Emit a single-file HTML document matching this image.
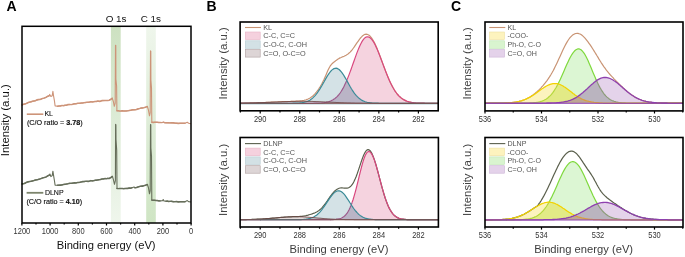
<!DOCTYPE html>
<html><head><meta charset="utf-8"><style>
html,body{margin:0;padding:0;background:#fff;width:685px;height:257px;overflow:hidden}
svg{display:block;font-family:"Liberation Sans", sans-serif;will-change:transform}
</style></head><body>
<svg width="685" height="257" viewBox="0 0 685 257">
<defs>
<linearGradient id="gO" x1="0" y1="0" x2="0" y2="1">
<stop offset="0" stop-color="#cde1c1"/><stop offset="0.45" stop-color="#dcebd5"/><stop offset="1" stop-color="#eff6ec"/></linearGradient>
<linearGradient id="gC" x1="0" y1="0" x2="0" y2="1">
<stop offset="0" stop-color="#eff6ec"/><stop offset="0.55" stop-color="#dcebd5"/><stop offset="1" stop-color="#cfe5c4"/></linearGradient>
</defs>
<rect x="110.9" y="26.3" width="9.8" height="196.7" fill="url(#gO)"/>
<rect x="146.2" y="26.3" width="9.6" height="196.7" fill="url(#gC)"/>
<path d="M22.00,105.00 L29.70,102.10 L39.50,99.50 L45.80,97.40 L49.20,95.80 L49.70,94.40 L50.90,96.50 L52.20,95.70 L52.90,91.30 L53.60,96.20 L54.40,100.60 L55.10,105.90 L57.50,106.20 L65.00,105.20 L80.00,103.30 L95.00,101.50 L105.00,100.50 L109.20,100.20 L112.20,98.20 L113.40,101.60 L114.30,106.30 L115.20,103.20 L115.50,45.30 L115.80,45.50 L115.90,79.00 L116.60,86.00 L116.90,110.80 L125.00,111.00 L135.00,109.70 L140.00,108.40 L144.20,107.60 L147.40,106.50 L148.40,110.00 L149.50,115.80 L150.20,112.60 L150.50,50.90 L150.80,51.10 L150.90,80.00 L151.50,88.00 L151.80,122.30 L156.00,122.30 L160.00,122.50 L163.00,122.40 L163.60,121.80 L164.30,122.60 L170.00,122.90 L175.00,123.10 L180.00,123.20 L185.00,123.30 L187.30,122.30 L188.60,123.30 L191.00,123.80" fill="none" stroke="#cd9479" stroke-width="1.1" stroke-linejoin="round"/>
<path d="M22.00,105.00 L23.54,104.16 L25.08,104.08 L26.62,103.44 L28.16,102.51 L29.70,102.10 L31.10,101.73 L32.50,101.32 L33.90,101.09 L35.30,100.82 L36.70,99.96 L38.10,99.54 L39.50,99.50 L41.08,99.21 L42.65,98.40 L44.22,98.11 L45.80,97.40 L47.50,96.25 L49.20,95.80" fill="none" stroke="#cd9479" stroke-width="1.45" stroke-linejoin="round" stroke-linecap="round"/>
<path d="M57.50,106.20 L59.00,105.96 L60.50,105.96 L62.00,105.41 L63.50,105.71 L65.00,105.20 L66.36,105.31 L67.73,104.53 L69.09,104.35 L70.45,104.54 L71.82,104.64 L73.18,104.08 L74.55,103.79 L75.91,103.76 L77.27,103.32 L78.64,103.28 L80.00,103.30 L81.36,103.09 L82.73,102.97 L84.09,102.62 L85.45,102.46 L86.82,102.28 L88.18,102.29 L89.55,102.01 L90.91,101.66 L92.27,102.06 L93.64,101.70 L95.00,101.50 L96.43,101.46 L97.86,100.99 L99.29,101.42 L100.71,101.18 L102.14,100.52 L103.57,100.53 L105.00,100.50 L106.40,100.56 L107.80,100.45 L109.20,100.20 L110.70,99.51 L112.20,98.20" fill="none" stroke="#cd9479" stroke-width="1.45" stroke-linejoin="round" stroke-linecap="round"/>
<path d="M116.90,110.80 L118.25,110.78 L119.60,111.10 L120.95,111.02 L122.30,110.80 L123.65,111.03 L125.00,111.00 L126.43,111.08 L127.86,110.87 L129.29,110.45 L130.71,110.32 L132.14,109.75 L133.57,109.71 L135.00,109.70 L136.67,109.47 L138.33,108.77 L140.00,108.40 L141.40,107.90 L142.80,107.90 L144.20,107.60 L145.80,107.19 L147.40,106.50" fill="none" stroke="#cd9479" stroke-width="1.45" stroke-linejoin="round" stroke-linecap="round"/>
<path d="M151.80,122.30 L153.20,122.42 L154.60,122.21 L156.00,122.30 L157.33,122.32 L158.67,122.44 L160.00,122.50 L161.50,122.64 L163.00,122.40" fill="none" stroke="#cd9479" stroke-width="1.45" stroke-linejoin="round" stroke-linecap="round"/>
<path d="M164.30,122.60 L165.73,122.69 L167.15,122.68 L168.57,122.82 L170.00,122.90 L171.67,122.64 L173.33,122.71 L175.00,123.10 L176.67,123.28 L178.33,123.50 L180.00,123.20 L181.67,123.30 L183.33,123.19 L185.00,123.30" fill="none" stroke="#cd9479" stroke-width="1.45" stroke-linejoin="round" stroke-linecap="round"/>
<path d="M22.00,184.00 L29.70,181.50 L39.50,179.10 L45.80,177.10 L49.50,175.00 L49.90,174.00 L50.90,176.60 L52.20,175.60 L52.90,171.20 L53.60,175.60 L54.40,180.50 L55.10,185.20 L57.50,185.30 L65.00,184.20 L80.00,182.20 L95.00,180.30 L105.00,178.50 L109.20,178.50 L112.40,176.40 L113.40,179.60 L114.50,184.30 L115.40,180.60 L115.60,124.40 L115.90,124.60 L116.00,139.60 L116.70,150.00 L117.00,188.50 L125.00,188.50 L132.00,187.80 L134.00,187.00 L135.00,187.80 L140.00,186.40 L144.20,185.60 L147.40,184.50 L148.40,187.50 L149.50,193.80 L150.20,190.60 L150.50,124.50 L150.80,124.70 L150.90,148.00 L151.50,156.00 L151.80,200.10 L156.00,200.50 L160.00,200.90 L162.50,200.70 L163.20,199.50 L163.90,200.90 L166.00,201.20 L170.00,201.40 L175.00,201.60 L180.00,201.70 L185.00,201.70 L187.30,200.60 L188.50,201.60 L191.00,202.00" fill="none" stroke="#666e5a" stroke-width="1.1" stroke-linejoin="round"/>
<path d="M22.00,184.00 L23.54,183.82 L25.08,183.31 L26.62,182.19 L28.16,181.71 L29.70,181.50 L31.10,181.39 L32.50,180.98 L33.90,180.59 L35.30,179.99 L36.70,179.86 L38.10,179.52 L39.50,179.10 L41.08,178.66 L42.65,177.86 L44.22,177.55 L45.80,177.10 L47.65,175.98 L49.50,175.00" fill="none" stroke="#666e5a" stroke-width="1.45" stroke-linejoin="round" stroke-linecap="round"/>
<path d="M57.50,185.30 L59.00,185.24 L60.50,185.21 L62.00,184.95 L63.50,184.45 L65.00,184.20 L66.36,183.98 L67.73,183.67 L69.09,183.33 L70.45,183.14 L71.82,183.27 L73.18,182.98 L74.55,182.84 L75.91,183.02 L77.27,182.58 L78.64,182.42 L80.00,182.20 L81.36,181.84 L82.73,181.52 L84.09,181.56 L85.45,181.25 L86.82,181.34 L88.18,181.51 L89.55,181.11 L90.91,180.60 L92.27,180.92 L93.64,180.68 L95.00,180.30 L96.43,180.21 L97.86,180.07 L99.29,179.71 L100.71,179.47 L102.14,178.91 L103.57,179.09 L105.00,178.50 L106.40,178.82 L107.80,178.26 L109.20,178.50 L110.80,177.63 L112.40,176.40" fill="none" stroke="#666e5a" stroke-width="1.45" stroke-linejoin="round" stroke-linecap="round"/>
<path d="M117.00,188.50 L118.33,188.65 L119.67,188.47 L121.00,188.52 L122.33,188.49 L123.67,188.80 L125.00,188.50 L126.40,188.36 L127.80,188.45 L129.20,187.98 L130.60,188.21 L132.00,187.80" fill="none" stroke="#666e5a" stroke-width="1.45" stroke-linejoin="round" stroke-linecap="round"/>
<path d="M135.00,187.80 L136.67,187.61 L138.33,186.84 L140.00,186.40 L141.40,186.18 L142.80,186.16 L144.20,185.60 L145.80,185.21 L147.40,184.50" fill="none" stroke="#666e5a" stroke-width="1.45" stroke-linejoin="round" stroke-linecap="round"/>
<path d="M151.80,200.10 L153.20,200.22 L154.60,200.17 L156.00,200.50 L157.33,200.51 L158.67,200.91 L160.00,200.90" fill="none" stroke="#666e5a" stroke-width="1.45" stroke-linejoin="round" stroke-linecap="round"/>
<path d="M166.00,201.20 L167.33,201.03 L168.67,201.62 L170.00,201.40 L171.67,201.30 L173.33,201.82 L175.00,201.60 L176.67,201.50 L178.33,201.99 L180.00,201.70 L181.67,201.84 L183.33,201.70 L185.00,201.70" fill="none" stroke="#666e5a" stroke-width="1.45" stroke-linejoin="round" stroke-linecap="round"/>
<rect x="22" y="26.3" width="169" height="196.7" fill="none" stroke="#000" stroke-width="1.5"/>
<line x1="191.10" y1="223" x2="191.10" y2="225.5" stroke="#000" stroke-width="1.2"/>
<text transform="translate(191.10,233.6) scale(0.88,1)" font-size="8.5" text-anchor="middle" fill="#333">0</text>
<line x1="177.00" y1="223" x2="177.00" y2="224.6" stroke="#000" stroke-width="1.2"/>
<line x1="162.90" y1="223" x2="162.90" y2="225.5" stroke="#000" stroke-width="1.2"/>
<text transform="translate(162.90,233.6) scale(0.88,1)" font-size="8.5" text-anchor="middle" fill="#333">200</text>
<line x1="148.80" y1="223" x2="148.80" y2="224.6" stroke="#000" stroke-width="1.2"/>
<line x1="134.70" y1="223" x2="134.70" y2="225.5" stroke="#000" stroke-width="1.2"/>
<text transform="translate(134.70,233.6) scale(0.88,1)" font-size="8.5" text-anchor="middle" fill="#333">400</text>
<line x1="120.60" y1="223" x2="120.60" y2="224.6" stroke="#000" stroke-width="1.2"/>
<line x1="106.50" y1="223" x2="106.50" y2="225.5" stroke="#000" stroke-width="1.2"/>
<text transform="translate(106.50,233.6) scale(0.88,1)" font-size="8.5" text-anchor="middle" fill="#333">600</text>
<line x1="92.40" y1="223" x2="92.40" y2="224.6" stroke="#000" stroke-width="1.2"/>
<line x1="78.30" y1="223" x2="78.30" y2="225.5" stroke="#000" stroke-width="1.2"/>
<text transform="translate(78.30,233.6) scale(0.88,1)" font-size="8.5" text-anchor="middle" fill="#333">800</text>
<line x1="64.20" y1="223" x2="64.20" y2="224.6" stroke="#000" stroke-width="1.2"/>
<line x1="50.10" y1="223" x2="50.10" y2="225.5" stroke="#000" stroke-width="1.2"/>
<text transform="translate(50.10,233.6) scale(0.88,1)" font-size="8.5" text-anchor="middle" fill="#333">1000</text>
<line x1="36.00" y1="223" x2="36.00" y2="224.6" stroke="#000" stroke-width="1.2"/>
<line x1="21.90" y1="223" x2="21.90" y2="225.5" stroke="#000" stroke-width="1.2"/>
<text transform="translate(21.90,233.6) scale(0.88,1)" font-size="8.5" text-anchor="middle" fill="#333">1200</text>
<text transform="translate(116.1,22.1) scale(1.1,1)" font-size="9" text-anchor="middle" fill="#111">O 1s</text>
<text transform="translate(150.9,22.1) scale(1.1,1)" font-size="9" text-anchor="middle" fill="#111">C 1s</text>
<line x1="26.8" y1="114.2" x2="43.3" y2="114.2" stroke="#cd9479" stroke-width="1.6"/>
<text x="44.4" y="116.4" font-size="7" fill="#111" stroke="#111" stroke-width="0.12">KL</text>
<text x="26.9" y="124.5" font-size="7.2" fill="#111" stroke="#111" stroke-width="0.15" xml:space="preserve">(C/O ratio = <tspan font-weight="bold">3.78</tspan>)</text>
<line x1="26.6" y1="192.8" x2="43.3" y2="192.8" stroke="#7c846c" stroke-width="1.8"/>
<text x="44.9" y="195.0" font-size="7" fill="#111" stroke="#111" stroke-width="0.12">DLNP</text>
<text x="26.4" y="203.6" font-size="7.2" fill="#111" stroke="#111" stroke-width="0.15" xml:space="preserve">(C/O ratio = <tspan font-weight="bold">4.10</tspan>)</text>
<text x="56.7" y="248.7" font-size="11.2" fill="#111">Binding energy (eV)</text>
<text transform="translate(9.1,120.2) rotate(-90)" font-size="11.4" text-anchor="middle" fill="#111">Intensity (a.u.)</text>
<text x="6.4" y="10.8" font-size="14" font-weight="bold" fill="#000">A</text>
<text x="206.6" y="11.0" font-size="14" font-weight="bold" fill="#000">B</text>
<text x="451.0" y="11.0" font-size="14" font-weight="bold" fill="#000">C</text>
<clipPath id="clip240_22"><rect x="240.1" y="22" width="198.1" height="88.8"/></clipPath>
<g clip-path="url(#clip240_22)">
<path d="M314.1,103.2L315.1,103.2L316.1,103.2L317.1,103.2L318.1,103.1L319.1,103.1L320.1,103.0L321.1,103.0L322.1,102.9L323.1,102.8L324.1,102.7L325.1,102.5L326.1,102.4L327.1,102.1L328.1,101.9L329.1,101.6L330.1,101.2L331.1,100.8L332.1,100.3L333.1,99.8L334.1,99.1L335.1,98.4L336.1,97.5L337.1,96.6L338.1,95.5L339.1,94.3L340.1,93.0L341.1,91.5L342.1,89.9L343.1,88.1L344.1,86.2L345.1,84.1L346.1,81.9L347.1,79.6L348.1,77.1L349.1,74.6L350.1,71.9L351.1,69.2L352.1,66.4L353.1,63.5L354.1,60.7L355.1,57.9L356.1,55.1L357.1,52.4L358.1,49.9L359.1,47.5L360.1,45.2L361.1,43.2L362.1,41.4L363.1,39.9L364.1,38.7L365.1,37.7L366.1,37.1L367.1,36.8L368.1,36.9L369.1,37.2L370.1,37.8L371.1,38.7L372.1,39.9L373.1,41.3L374.1,42.9L375.1,44.8L376.1,46.9L377.1,49.1L378.1,51.5L379.1,54.0L380.1,56.6L381.1,59.2L382.1,61.9L383.1,64.6L384.1,67.3L385.1,69.9L386.1,72.5L387.1,75.0L388.1,77.4L389.1,79.7L390.1,81.9L391.1,84.0L392.1,86.0L393.1,87.8L394.1,89.5L395.1,91.1L396.1,92.5L397.1,93.8L398.1,95.0L399.1,96.1L400.1,97.0L401.1,97.9L402.1,98.7L403.1,99.3L404.1,99.9L405.1,100.4L406.1,100.9L407.1,101.3L408.1,101.6L409.1,101.9L410.1,102.1L411.1,102.3L412.1,102.5L413.1,102.6L414.1,102.8L415.1,102.9L416.1,103.0L417.1,103.0L418.1,103.1L419.1,103.1L420.1,103.2L421.1,103.2L422.1,103.2L423.1,103.2L424.1,103.2L424.1,103.3L314.1,103.3Z" fill="#f5d3df"/>
<path d="M293.1,103.2L294.1,103.2L295.1,103.2L296.1,103.2L297.1,103.1L298.1,103.1L299.1,103.0L300.1,102.9L301.1,102.8L302.1,102.7L303.1,102.5L304.1,102.3L305.1,102.0L306.1,101.7L307.1,101.4L308.1,101.0L309.1,100.5L310.1,99.9L311.1,99.2L312.1,98.5L313.1,97.6L314.1,96.6L315.1,95.6L316.1,94.4L317.1,93.1L318.1,91.7L319.1,90.2L320.1,88.6L321.1,86.9L322.1,85.2L323.1,83.4L324.1,81.7L325.1,79.9L326.1,78.1L327.1,76.4L328.1,74.8L329.1,73.3L330.1,72.0L331.1,70.8L332.1,69.9L333.1,69.1L334.1,68.6L335.1,68.3L336.1,68.2L337.1,68.4L338.1,68.9L339.1,69.5L340.1,70.5L341.1,71.6L342.1,72.9L343.1,74.3L344.1,75.9L345.1,77.6L346.1,79.3L347.1,81.1L348.1,82.9L349.1,84.7L350.1,86.5L351.1,88.2L352.1,89.8L353.1,91.3L354.1,92.8L355.1,94.1L356.1,95.3L357.1,96.4L358.1,97.4L359.1,98.3L360.1,99.1L361.1,99.8L362.1,100.4L363.1,100.9L364.1,101.3L365.1,101.7L366.1,102.0L367.1,102.3L368.1,102.5L369.1,102.6L370.1,102.8L371.1,102.9L372.1,103.0L373.1,103.1L374.1,103.1L375.1,103.2L376.1,103.2L377.1,103.2L378.1,103.2L378.1,103.3L293.1,103.3Z" fill="#d4e2e6"/>
<path d="M240.1,103.1L241.1,103.1L242.1,103.1L243.1,103.1L244.1,103.1L245.1,103.0L246.1,103.0L247.1,103.0L248.1,103.0L249.1,103.0L250.1,102.9L251.1,102.9L252.1,102.9L253.1,102.9L254.1,102.8L255.1,102.8L256.1,102.8L257.1,102.7L258.1,102.7L259.1,102.7L260.1,102.6L261.1,102.6L262.1,102.6L263.1,102.5L264.1,102.5L265.1,102.5L266.1,102.4L267.1,102.4L268.1,102.3L269.1,102.3L270.1,102.3L271.1,102.2L272.1,102.2L273.1,102.1L274.1,102.1L275.1,102.0L276.1,102.0L277.1,102.0L278.1,101.9L279.1,101.9L280.1,101.8L281.1,101.8L282.1,101.7L283.1,101.7L284.1,101.7L285.1,101.6L286.1,101.6L287.1,101.6L288.1,101.5L289.1,101.5L290.1,101.5L291.1,101.4L292.1,101.4L293.1,101.4L294.1,101.4L295.1,101.4L296.1,101.3L297.1,101.3L298.1,101.3L299.1,101.3L300.1,101.3L301.1,101.3L302.1,101.3L303.1,101.3L304.1,101.3L305.1,101.3L306.1,101.3L307.1,101.3L308.1,101.4L309.1,101.4L310.1,101.4L311.1,101.4L312.1,101.4L313.1,101.5L314.1,101.5L315.1,101.5L316.1,101.6L317.1,101.6L318.1,101.6L319.1,101.7L320.1,101.7L321.1,101.8L322.1,101.8L323.1,101.9L324.1,101.9L325.1,102.0L326.1,102.0L327.1,102.0L328.1,102.1L329.1,102.1L330.1,102.2L331.1,102.2L332.1,102.3L333.1,102.3L334.1,102.4L335.1,102.4L336.1,102.5L337.1,102.5L338.1,102.5L339.1,102.6L340.1,102.6L341.1,102.7L342.1,102.7L343.1,102.7L344.1,102.8L345.1,102.8L346.1,102.8L347.1,102.9L348.1,102.9L349.1,102.9L350.1,102.9L351.1,103.0L352.1,103.0L353.1,103.0L354.1,103.0L355.1,103.1L356.1,103.1L357.1,103.1L358.1,103.1L359.1,103.1L360.1,103.1L361.1,103.1L362.1,103.2L363.1,103.2L364.1,103.2L365.1,103.2L366.1,103.2L367.1,103.2L368.1,103.2L369.1,103.2L370.1,103.2L371.1,103.2L372.1,103.2L372.1,103.3L240.1,103.3Z" fill="#e6dcdc"/>
<path d="M314.1,103.2L315.1,103.2L316.1,103.2L317.1,103.2L318.1,103.1L319.1,103.1L320.1,103.0L321.1,103.0L322.1,102.9L323.1,102.8L324.1,102.7L325.1,102.5L326.1,102.4L327.1,102.1L328.1,101.9L329.1,101.6L330.1,101.2L331.1,100.8L332.1,100.3L333.1,99.8L334.1,99.1L335.1,98.4L336.1,97.5L337.1,96.6L338.1,95.5L339.1,94.3L340.1,93.0L341.1,91.5L342.1,89.9L343.1,88.1L344.1,86.2L345.1,84.1L346.1,81.9L347.1,81.1L348.1,82.9L349.1,84.7L350.1,86.5L351.1,88.2L352.1,89.8L353.1,91.3L354.1,92.8L355.1,94.1L356.1,95.3L357.1,96.4L358.1,97.4L359.1,98.3L360.1,99.1L361.1,99.8L362.1,100.4L363.1,100.9L364.1,101.3L365.1,101.7L366.1,102.0L367.1,102.3L368.1,102.5L369.1,102.6L370.1,102.8L371.1,102.9L372.1,103.0L373.1,103.1L374.1,103.1L375.1,103.2L376.1,103.2L377.1,103.2L378.1,103.2L378.1,103.3L314.1,103.3Z" fill="#bab4c6"/>
<path d="M314.1,103.2L315.1,103.2L316.1,103.2L317.1,103.2L318.1,103.1L319.1,103.1L320.1,103.0L321.1,103.0L322.1,102.9L323.1,102.8L324.1,102.7L325.1,102.5L326.1,102.4L327.1,102.1L328.1,102.1L329.1,102.1L330.1,102.2L331.1,102.2L332.1,102.3L333.1,102.3L334.1,102.4L335.1,102.4L336.1,102.5L337.1,102.5L338.1,102.5L339.1,102.6L340.1,102.6L341.1,102.7L342.1,102.7L343.1,102.7L344.1,102.8L345.1,102.8L346.1,102.8L347.1,102.9L348.1,102.9L349.1,102.9L350.1,102.9L351.1,103.0L352.1,103.0L353.1,103.0L354.1,103.0L355.1,103.1L356.1,103.1L357.1,103.1L358.1,103.1L359.1,103.1L360.1,103.1L361.1,103.1L362.1,103.2L363.1,103.2L364.1,103.2L365.1,103.2L366.1,103.2L367.1,103.2L368.1,103.2L369.1,103.2L370.1,103.2L371.1,103.2L372.1,103.2L372.1,103.3L314.1,103.3Z" fill="#d8c4cc"/>
<path d="M293.1,103.2L294.1,103.2L295.1,103.2L296.1,103.2L297.1,103.1L298.1,103.1L299.1,103.0L300.1,102.9L301.1,102.8L302.1,102.7L303.1,102.5L304.1,102.3L305.1,102.0L306.1,101.7L307.1,101.4L308.1,101.4L309.1,101.4L310.1,101.4L311.1,101.4L312.1,101.4L313.1,101.5L314.1,101.5L315.1,101.5L316.1,101.6L317.1,101.6L318.1,101.6L319.1,101.7L320.1,101.7L321.1,101.8L322.1,101.8L323.1,101.9L324.1,101.9L325.1,102.0L326.1,102.0L327.1,102.0L328.1,102.1L329.1,102.1L330.1,102.2L331.1,102.2L332.1,102.3L333.1,102.3L334.1,102.4L335.1,102.4L336.1,102.5L337.1,102.5L338.1,102.5L339.1,102.6L340.1,102.6L341.1,102.7L342.1,102.7L343.1,102.7L344.1,102.8L345.1,102.8L346.1,102.8L347.1,102.9L348.1,102.9L349.1,102.9L350.1,102.9L351.1,103.0L352.1,103.0L353.1,103.0L354.1,103.0L355.1,103.1L356.1,103.1L357.1,103.1L358.1,103.1L359.1,103.1L360.1,103.1L361.1,103.1L362.1,103.2L363.1,103.2L364.1,103.2L365.1,103.2L366.1,103.2L367.1,103.2L368.1,103.2L369.1,103.2L370.1,103.2L371.1,103.2L372.1,103.2L372.1,103.3L293.1,103.3Z" fill="#c8ccd2"/>
<path d="M314.1,103.2L315.1,103.2L316.1,103.2L317.1,103.2L318.1,103.1L319.1,103.1L320.1,103.0L321.1,103.0L322.1,102.9L323.1,102.8L324.1,102.7L325.1,102.5L326.1,102.4L327.1,102.1L328.1,102.1L329.1,102.1L330.1,102.2L331.1,102.2L332.1,102.3L333.1,102.3L334.1,102.4L335.1,102.4L336.1,102.5L337.1,102.5L338.1,102.5L339.1,102.6L340.1,102.6L341.1,102.7L342.1,102.7L343.1,102.7L344.1,102.8L345.1,102.8L346.1,102.8L347.1,102.9L348.1,102.9L349.1,102.9L350.1,102.9L351.1,103.0L352.1,103.0L353.1,103.0L354.1,103.0L355.1,103.1L356.1,103.1L357.1,103.1L358.1,103.1L359.1,103.1L360.1,103.1L361.1,103.1L362.1,103.2L363.1,103.2L364.1,103.2L365.1,103.2L366.1,103.2L367.1,103.2L368.1,103.2L369.1,103.2L370.1,103.2L371.1,103.2L372.1,103.2L372.1,103.3L314.1,103.3Z" fill="#b0a8b8"/>
<path d="M240.1,103.1L241.1,103.1L242.1,103.1L243.1,103.1L244.1,103.1L245.1,103.0L246.1,103.0L247.1,103.0L248.1,103.0L249.1,103.0L250.1,102.9L251.1,102.9L252.1,102.9L253.1,102.9L254.1,102.8L255.1,102.8L256.1,102.8L257.1,102.7L258.1,102.7L259.1,102.7L260.1,102.6L261.1,102.6L262.1,102.6L263.1,102.5L264.1,102.5L265.1,102.5L266.1,102.4L267.1,102.4L268.1,102.3L269.1,102.3L270.1,102.3L271.1,102.2L272.1,102.2L273.1,102.1L274.1,102.1L275.1,102.0L276.1,102.0L277.1,102.0L278.1,101.9L279.1,101.9L280.1,101.8L281.1,101.8L282.1,101.7L283.1,101.7L284.1,101.7L285.1,101.6L286.1,101.6L287.1,101.6L288.1,101.5L289.1,101.5L290.1,101.5L291.1,101.4L292.1,101.4L293.1,101.3L294.1,101.3L295.1,101.3L296.1,101.2L297.1,101.2L298.1,101.1L299.1,101.0L300.1,100.9L301.1,100.8L302.1,100.7L303.1,100.5L304.1,100.3L305.1,100.0L306.1,99.8L307.1,99.4L308.1,99.0L309.1,98.5L310.1,98.0L311.1,97.3L312.1,96.6L313.1,95.7L314.1,94.8L315.1,93.7L316.1,92.5L317.1,91.2L318.1,89.8L319.1,88.3L320.1,86.7L321.1,85.0L322.1,83.2L323.1,81.2L324.1,79.2L325.1,77.0L326.1,74.7L327.1,72.3L328.1,70.1L329.1,68.0L330.1,66.2L331.1,64.8L332.1,63.7L333.1,62.8L334.1,62.0L335.1,61.2L336.1,60.4L337.1,59.7L338.1,59.0L339.1,58.4L340.1,57.9L341.1,57.5L342.1,57.0L343.1,56.6L344.1,56.2L345.1,55.7L346.1,55.2L347.1,54.6L348.1,53.9L349.1,53.0L350.1,52.1L351.1,51.0L352.1,49.8L353.1,48.5L354.1,47.2L355.1,45.7L356.1,44.2L357.1,42.7L358.1,41.3L359.1,39.9L360.1,38.5L361.1,37.3L362.1,36.3L363.1,35.4L364.1,34.8L365.1,34.3L366.1,34.2L367.1,34.3L368.1,34.7L369.1,35.3L370.1,36.2L371.1,37.3L372.1,38.7L373.1,40.3L374.1,42.1L375.1,44.1L376.1,46.3L377.1,48.6L378.1,51.1L379.1,53.6L380.1,56.3L381.1,59.0L382.1,61.7L383.1,64.4L384.1,67.1L385.1,69.8L386.1,72.4L387.1,74.9L388.1,77.3L389.1,79.7L390.1,81.9L391.1,84.0L392.1,85.9L393.1,87.8L394.1,89.5L395.1,91.1L396.1,92.5L397.1,93.8L398.1,95.0L399.1,96.1L400.1,97.0L401.1,97.9L402.1,98.6L403.1,99.3L404.1,99.9L405.1,100.4L406.1,100.9L407.1,101.3L408.1,101.6L409.1,101.9L410.1,102.1L411.1,102.3L412.1,102.5L413.1,102.6L414.1,102.8L415.1,102.9L416.1,103.0L417.1,103.0L418.1,103.1L419.1,103.1L420.1,103.2L421.1,103.2L422.1,103.2L423.1,103.2L424.1,103.2L425.1,103.3L426.1,103.3L427.1,103.3L428.1,103.3L429.1,103.3L430.1,103.3L431.1,103.3L432.1,103.3L433.1,103.3L434.1,103.3L435.1,103.3L436.1,103.3L437.1,103.3L438.1,103.3L438.2,103.3" fill="none" stroke="#c99474" stroke-width="1.2" stroke-linejoin="round"/>
<path d="M240.1,103.3L241.1,103.3L242.1,103.3L243.1,103.3L244.1,103.3L245.1,103.3L246.1,103.3L247.1,103.3L248.1,103.3L249.1,103.3L250.1,103.3L251.1,103.3L252.1,103.3L253.1,103.3L254.1,103.3L255.1,103.3L256.1,103.3L257.1,103.3L258.1,103.3L259.1,103.3" fill="none" stroke="#d9487f" stroke-width="1.2" stroke-linejoin="round"/>
<path d="M258.1,103.3L259.1,103.3L260.1,103.3L261.1,103.3L262.1,103.3L263.1,103.3L264.1,103.3L265.1,103.3L266.1,103.3L267.1,103.3L268.1,103.3L269.1,103.3L270.1,103.3L271.1,103.3L272.1,103.3L273.1,103.3L274.1,103.3L275.1,103.3L276.1,103.3L277.1,103.3L278.1,103.3L279.1,103.3L280.1,103.3L281.1,103.3L282.1,103.3L283.1,103.3L284.1,103.3L285.1,103.3L286.1,103.3L287.1,103.3L288.1,103.3L289.1,103.3L290.1,103.3L291.1,103.3L292.1,103.3L293.1,103.3L294.1,103.3L295.1,103.3L296.1,103.3L297.1,103.3L298.1,103.3L299.1,103.3L300.1,103.3L301.1,103.3L302.1,103.3L303.1,103.3L304.1,103.3L305.1,103.3L306.1,103.3L307.1,103.3L308.1,103.3L309.1,103.3L310.1,103.3L311.1,103.3L312.1,103.3L313.1,103.3L314.1,103.2L315.1,103.2L316.1,103.2L317.1,103.2L318.1,103.1L319.1,103.1L320.1,103.0L321.1,103.0L322.1,102.9L323.1,102.8L324.1,102.7L325.1,102.5" fill="none" stroke="#9e5a8c" stroke-width="1.2" stroke-linejoin="round"/>
<path d="M324.1,102.7L325.1,102.5L326.1,102.4L327.1,102.1L328.1,101.9L329.1,101.6L330.1,101.2L331.1,100.8L332.1,100.3L333.1,99.8L334.1,99.1L335.1,98.4L336.1,97.5L337.1,96.6L338.1,95.5L339.1,94.3L340.1,93.0L341.1,91.5L342.1,89.9L343.1,88.1L344.1,86.2L345.1,84.1L346.1,81.9L347.1,79.6" fill="none" stroke="#9e5a8c" stroke-width="1.2" stroke-linejoin="round"/>
<path d="M347.1,79.6L348.1,77.1L349.1,74.6L350.1,71.9L351.1,69.2L352.1,66.4L353.1,63.5L354.1,60.7L355.1,57.9L356.1,55.1L357.1,52.4L358.1,49.9L359.1,47.5L360.1,45.2L361.1,43.2L362.1,41.4L363.1,39.9L364.1,38.7L365.1,37.7L366.1,37.1L367.1,36.8L368.1,36.9L369.1,37.2L370.1,37.8L371.1,38.7L372.1,39.9L373.1,41.3L374.1,42.9L375.1,44.8L376.1,46.9L377.1,49.1L378.1,51.5L379.1,54.0L380.1,56.6L381.1,59.2L382.1,61.9L383.1,64.6L384.1,67.3L385.1,69.9L386.1,72.5L387.1,75.0L388.1,77.4L389.1,79.7L390.1,81.9L391.1,84.0L392.1,86.0L393.1,87.8L394.1,89.5L395.1,91.1L396.1,92.5L397.1,93.8L398.1,95.0L399.1,96.1L400.1,97.0L401.1,97.9L402.1,98.7L403.1,99.3L404.1,99.9L405.1,100.4L406.1,100.9L407.1,101.3L408.1,101.6L409.1,101.9L410.1,102.1L411.1,102.3L412.1,102.5L413.1,102.6L414.1,102.8L415.1,102.9L416.1,103.0L417.1,103.0L418.1,103.1L419.1,103.1L420.1,103.2L421.1,103.2L422.1,103.2L423.1,103.2L424.1,103.2L425.1,103.3L426.1,103.3L427.1,103.3L428.1,103.3L429.1,103.3L430.1,103.3L431.1,103.3L432.1,103.3L433.1,103.3L434.1,103.3L435.1,103.3L436.1,103.3L437.1,103.3L438.1,103.3L438.2,103.3" fill="none" stroke="#d9487f" stroke-width="1.2" stroke-linejoin="round"/>
<path d="M240.1,103.3L241.1,103.3L242.1,103.3L243.1,103.3L244.1,103.3L245.1,103.3L246.1,103.3L247.1,103.3L248.1,103.3L249.1,103.3L250.1,103.3L251.1,103.3L252.1,103.3L253.1,103.3L254.1,103.3L255.1,103.3L256.1,103.3L257.1,103.3L258.1,103.3L259.1,103.3" fill="none" stroke="#3b8b98" stroke-width="1.2" stroke-linejoin="round"/>
<path d="M258.1,103.3L259.1,103.3L260.1,103.3L261.1,103.3L262.1,103.3L263.1,103.3L264.1,103.3L265.1,103.3L266.1,103.3L267.1,103.3L268.1,103.3L269.1,103.3L270.1,103.3L271.1,103.3L272.1,103.3L273.1,103.3L274.1,103.3L275.1,103.3L276.1,103.3L277.1,103.3L278.1,103.3L279.1,103.3L280.1,103.3L281.1,103.3L282.1,103.3L283.1,103.3L284.1,103.3L285.1,103.3L286.1,103.3L287.1,103.3L288.1,103.3L289.1,103.3L290.1,103.3L291.1,103.3L292.1,103.3L293.1,103.2L294.1,103.2L295.1,103.2L296.1,103.2L297.1,103.1L298.1,103.1L299.1,103.0L300.1,102.9L301.1,102.8L302.1,102.7L303.1,102.5L304.1,102.3L305.1,102.0L306.1,101.7" fill="none" stroke="#3b8b98" stroke-width="1.2" stroke-linejoin="round"/>
<path d="M306.1,101.7L307.1,101.4L308.1,101.0L309.1,100.5L310.1,99.9L311.1,99.2L312.1,98.5L313.1,97.6L314.1,96.6L315.1,95.6L316.1,94.4L317.1,93.1L318.1,91.7L319.1,90.2L320.1,88.6L321.1,86.9L322.1,85.2L323.1,83.4L324.1,81.7L325.1,79.9L326.1,78.1L327.1,76.4L328.1,74.8L329.1,73.3L330.1,72.0L331.1,70.8L332.1,69.9L333.1,69.1L334.1,68.6L335.1,68.3L336.1,68.2L337.1,68.4L338.1,68.9L339.1,69.5L340.1,70.5L341.1,71.6L342.1,72.9L343.1,74.3L344.1,75.9L345.1,77.6L346.1,79.3L347.1,81.1L348.1,82.9L349.1,84.7L350.1,86.5L351.1,88.2L352.1,89.8L353.1,91.3L354.1,92.8L355.1,94.1L356.1,95.3L357.1,96.4L358.1,97.4L359.1,98.3L360.1,99.1L361.1,99.8L362.1,100.4L363.1,100.9L364.1,101.3L365.1,101.7L366.1,102.0L367.1,102.3L368.1,102.5L369.1,102.6L370.1,102.8L371.1,102.9L372.1,103.0L373.1,103.1L374.1,103.1L375.1,103.2L376.1,103.2L377.1,103.2L378.1,103.2L379.1,103.3L380.1,103.3L381.1,103.3L382.1,103.3L383.1,103.3L384.1,103.3L385.1,103.3L386.1,103.3L387.1,103.3L388.1,103.3L389.1,103.3L390.1,103.3L391.1,103.3L392.1,103.3L393.1,103.3L394.1,103.3L395.1,103.3L396.1,103.3L397.1,103.3L398.1,103.3L399.1,103.3L400.1,103.3L401.1,103.3L402.1,103.3L403.1,103.3L404.1,103.3L405.1,103.3L406.1,103.3L407.1,103.3L408.1,103.3L409.1,103.3L410.1,103.3L411.1,103.3L412.1,103.3L413.1,103.3L414.1,103.3L415.1,103.3L416.1,103.3L417.1,103.3L418.1,103.3L419.1,103.3L420.1,103.3L421.1,103.3L422.1,103.3L423.1,103.3L424.1,103.3L425.1,103.3L426.1,103.3L427.1,103.3L428.1,103.3L429.1,103.3L430.1,103.3L431.1,103.3L432.1,103.3L433.1,103.3L434.1,103.3L435.1,103.3L436.1,103.3L437.1,103.3L438.1,103.3L438.2,103.3" fill="none" stroke="#3b8b98" stroke-width="1.2" stroke-linejoin="round"/>
<path d="M240.1,103.1L241.1,103.1L242.1,103.1L243.1,103.1L244.1,103.1L245.1,103.0L246.1,103.0L247.1,103.0L248.1,103.0L249.1,103.0L250.1,102.9L251.1,102.9L252.1,102.9L253.1,102.9L254.1,102.8L255.1,102.8L256.1,102.8L257.1,102.7L258.1,102.7L259.1,102.7L260.1,102.6L261.1,102.6L262.1,102.6L263.1,102.5L264.1,102.5L265.1,102.5L266.1,102.4L267.1,102.4L268.1,102.3L269.1,102.3L270.1,102.3L271.1,102.2L272.1,102.2L273.1,102.1L274.1,102.1L275.1,102.0L276.1,102.0L277.1,102.0L278.1,101.9L279.1,101.9L280.1,101.8L281.1,101.8L282.1,101.7L283.1,101.7L284.1,101.7L285.1,101.6L286.1,101.6L287.1,101.6L288.1,101.5L289.1,101.5L290.1,101.5L291.1,101.4L292.1,101.4L293.1,101.4L294.1,101.4L295.1,101.4L296.1,101.3L297.1,101.3L298.1,101.3L299.1,101.3L300.1,101.3L301.1,101.3L302.1,101.3L303.1,101.3L304.1,101.3L305.1,101.3L306.1,101.3L307.1,101.3L308.1,101.4L309.1,101.4L310.1,101.4L311.1,101.4L312.1,101.4L313.1,101.5L314.1,101.5L315.1,101.5L316.1,101.6L317.1,101.6L318.1,101.6L319.1,101.7L320.1,101.7L321.1,101.8L322.1,101.8L323.1,101.9L324.1,101.9L325.1,102.0L326.1,102.0L327.1,102.0L328.1,102.1L329.1,102.1L330.1,102.2L331.1,102.2L332.1,102.3L333.1,102.3L334.1,102.4L335.1,102.4L336.1,102.5L337.1,102.5L338.1,102.5L339.1,102.6L340.1,102.6L341.1,102.7L342.1,102.7L343.1,102.7L344.1,102.8L345.1,102.8L346.1,102.8L347.1,102.9L348.1,102.9L349.1,102.9L350.1,102.9L351.1,103.0L352.1,103.0L353.1,103.0L354.1,103.0L355.1,103.1L356.1,103.1L357.1,103.1L358.1,103.1L359.1,103.1L360.1,103.1L361.1,103.1L362.1,103.2L363.1,103.2L364.1,103.2L365.1,103.2L366.1,103.2L367.1,103.2L368.1,103.2L369.1,103.2L370.1,103.2L371.1,103.2L372.1,103.2L373.1,103.3L374.1,103.3L375.1,103.3L376.1,103.3L377.1,103.3L378.1,103.3L379.1,103.3L380.1,103.3L381.1,103.3L382.1,103.3L383.1,103.3L384.1,103.3L385.1,103.3L386.1,103.3L387.1,103.3L388.1,103.3L389.1,103.3L390.1,103.3L391.1,103.3L392.1,103.3L393.1,103.3L394.1,103.3L395.1,103.3L396.1,103.3L397.1,103.3L398.1,103.3L399.1,103.3L400.1,103.3L401.1,103.3L402.1,103.3L403.1,103.3L404.1,103.3L405.1,103.3L406.1,103.3L407.1,103.3L408.1,103.3L409.1,103.3L410.1,103.3L411.1,103.3L412.1,103.3L413.1,103.3L414.1,103.3L415.1,103.3L416.1,103.3L417.1,103.3L418.1,103.3L419.1,103.3L420.1,103.3L421.1,103.3L422.1,103.3L423.1,103.3L424.1,103.3L425.1,103.3L426.1,103.3L427.1,103.3L428.1,103.3L429.1,103.3L430.1,103.3L431.1,103.3L432.1,103.3L433.1,103.3L434.1,103.3L435.1,103.3L436.1,103.3L437.1,103.3L438.1,103.3L438.2,103.3" fill="none" stroke="#6e4646" stroke-width="0.9" stroke-linejoin="round"/>
<line x1="240.1" y1="104.50" x2="438.2" y2="104.50" stroke="#d3e3e8" stroke-width="0.9"/>
<line x1="240.1" y1="103.40" x2="438.2" y2="103.40" stroke="#7a5252" stroke-width="0.9"/>
</g>
<rect x="240.1" y="22" width="198.1" height="88.8" fill="none" stroke="#000" stroke-width="1.6"/>
<line x1="418.40" y1="110.8" x2="418.40" y2="113.39999999999999" stroke="#000" stroke-width="1.2"/>
<text transform="translate(418.40,121.60) scale(0.88,1)" font-size="8.5" text-anchor="middle" fill="#333">282</text>
<line x1="398.62" y1="110.8" x2="398.62" y2="112.5" stroke="#000" stroke-width="1.2"/>
<line x1="378.85" y1="110.8" x2="378.85" y2="113.39999999999999" stroke="#000" stroke-width="1.2"/>
<text transform="translate(378.85,121.60) scale(0.88,1)" font-size="8.5" text-anchor="middle" fill="#333">284</text>
<line x1="359.07" y1="110.8" x2="359.07" y2="112.5" stroke="#000" stroke-width="1.2"/>
<line x1="339.30" y1="110.8" x2="339.30" y2="113.39999999999999" stroke="#000" stroke-width="1.2"/>
<text transform="translate(339.30,121.60) scale(0.88,1)" font-size="8.5" text-anchor="middle" fill="#333">286</text>
<line x1="319.52" y1="110.8" x2="319.52" y2="112.5" stroke="#000" stroke-width="1.2"/>
<line x1="299.75" y1="110.8" x2="299.75" y2="113.39999999999999" stroke="#000" stroke-width="1.2"/>
<text transform="translate(299.75,121.60) scale(0.88,1)" font-size="8.5" text-anchor="middle" fill="#333">288</text>
<line x1="279.97" y1="110.8" x2="279.97" y2="112.5" stroke="#000" stroke-width="1.2"/>
<line x1="260.20" y1="110.8" x2="260.20" y2="113.39999999999999" stroke="#000" stroke-width="1.2"/>
<text transform="translate(260.20,121.60) scale(0.88,1)" font-size="8.5" text-anchor="middle" fill="#333">290</text>
<line x1="240.42" y1="110.8" x2="240.42" y2="112.5" stroke="#000" stroke-width="1.2"/>
<line x1="245.0" y1="27.50" x2="261.0" y2="27.50" stroke="#c99474" stroke-width="1.1"/>
<text x="263.20" y="29.80" font-size="7.3" fill="#555">KL</text>
<rect x="245.30" y="32.00" width="14.9" height="7.5" fill="#f5d1de" stroke="#e8b4c6" stroke-width="0.6"/>
<text x="263.20" y="38.40" font-size="7.3" fill="#555">C-C, C=C</text>
<rect x="245.30" y="40.80" width="14.9" height="7.5" fill="#d3e1e5" stroke="#b8ccd2" stroke-width="0.6"/>
<text x="263.20" y="47.20" font-size="7.3" fill="#555">C-O-C, C-OH</text>
<rect x="245.30" y="49.60" width="14.9" height="7.5" fill="#ddd5d6" stroke="#b0a0a0" stroke-width="0.6"/>
<text x="263.20" y="56.00" font-size="7.3" fill="#555">C=O, O-C=O</text>
<clipPath id="clip240_137"><rect x="240.1" y="137.5" width="198.29999999999998" height="89.5"/></clipPath>
<g clip-path="url(#clip240_137)">
<path d="M331.1,219.6L332.1,219.6L333.1,219.6L334.1,219.5L335.1,219.5L336.1,219.4L337.1,219.2L338.1,219.1L339.1,218.8L340.1,218.6L341.1,218.2L342.1,217.7L343.1,217.1L344.1,216.4L345.1,215.5L346.1,214.4L347.1,213.1L348.1,211.5L349.1,209.7L350.1,207.6L351.1,205.2L352.1,202.5L353.1,199.5L354.1,196.2L355.1,192.7L356.1,188.9L357.1,184.9L358.1,180.8L359.1,176.7L360.1,172.6L361.1,168.6L362.1,164.8L363.1,161.4L364.1,158.3L365.1,155.8L366.1,153.8L367.1,152.4L368.1,151.6L369.1,151.5L370.1,152.1L371.1,153.1L372.1,154.7L373.1,156.8L374.1,159.4L375.1,162.3L376.1,165.5L377.1,169.0L378.1,172.7L379.1,176.4L380.1,180.2L381.1,184.0L382.1,187.7L383.1,191.2L384.1,194.6L385.1,197.7L386.1,200.6L387.1,203.3L388.1,205.7L389.1,207.9L390.1,209.8L391.1,211.4L392.1,212.9L393.1,214.1L394.1,215.2L395.1,216.1L396.1,216.8L397.1,217.4L398.1,217.9L399.1,218.3L400.1,218.6L401.1,218.9L402.1,219.1L403.1,219.2L404.1,219.4L405.1,219.4L406.1,219.5L407.1,219.6L408.1,219.6L409.1,219.6L410.1,219.6L410.1,219.7L331.1,219.7Z" fill="#f5d3df"/>
<path d="M298.1,219.6L299.1,219.6L300.1,219.6L301.1,219.6L302.1,219.5L303.1,219.5L304.1,219.4L305.1,219.3L306.1,219.2L307.1,219.0L308.1,218.8L309.1,218.6L310.1,218.4L311.1,218.0L312.1,217.7L313.1,217.2L314.1,216.7L315.1,216.1L316.1,215.4L317.1,214.7L318.1,213.8L319.1,212.8L320.1,211.8L321.1,210.6L322.1,209.4L323.1,208.0L324.1,206.6L325.1,205.2L326.1,203.7L327.1,202.2L328.1,200.7L329.1,199.2L330.1,197.7L331.1,196.3L332.1,195.1L333.1,193.9L334.1,192.9L335.1,192.1L336.1,191.5L337.1,191.0L338.1,190.8L339.1,190.8L340.1,191.1L341.1,191.5L342.1,192.2L343.1,193.1L344.1,194.2L345.1,195.4L346.1,196.8L347.1,198.3L348.1,199.8L349.1,201.4L350.1,203.0L351.1,204.5L352.1,206.1L353.1,207.6L354.1,209.0L355.1,210.3L356.1,211.5L357.1,212.7L358.1,213.7L359.1,214.6L360.1,215.4L361.1,216.1L362.1,216.7L363.1,217.3L364.1,217.7L365.1,218.1L366.1,218.4L367.1,218.7L368.1,218.9L369.1,219.1L370.1,219.2L371.1,219.3L372.1,219.4L373.1,219.5L374.1,219.5L375.1,219.6L376.1,219.6L377.1,219.6L377.1,219.7L298.1,219.7Z" fill="#d4e2e6"/>
<path d="M240.1,219.6L241.1,219.6L242.1,219.6L243.1,219.6L244.1,219.6L245.1,219.6L246.1,219.6L247.1,219.5L248.1,219.5L249.1,219.5L250.1,219.5L251.1,219.5L252.1,219.4L253.1,219.4L254.1,219.4L255.1,219.3L256.1,219.3L257.1,219.2L258.1,219.2L259.1,219.2L260.1,219.1L261.1,219.0L262.1,219.0L263.1,218.9L264.1,218.9L265.1,218.8L266.1,218.7L267.1,218.6L268.1,218.6L269.1,218.5L270.1,218.4L271.1,218.3L272.1,218.2L273.1,218.1L274.1,218.1L275.1,218.0L276.1,217.9L277.1,217.8L278.1,217.7L279.1,217.6L280.1,217.5L281.1,217.4L282.1,217.3L283.1,217.3L284.1,217.2L285.1,217.1L286.1,217.0L287.1,217.0L288.1,216.9L289.1,216.9L290.1,216.8L291.1,216.8L292.1,216.8L293.1,216.7L294.1,216.7L295.1,216.7L296.1,216.7L297.1,216.7L298.1,216.7L299.1,216.7L300.1,216.8L301.1,216.8L302.1,216.8L303.1,216.9L304.1,216.9L305.1,217.0L306.1,217.1L307.1,217.1L308.1,217.2L309.1,217.3L310.1,217.4L311.1,217.4L312.1,217.5L313.1,217.6L314.1,217.7L315.1,217.8L316.1,217.9L317.1,218.0L318.1,218.1L319.1,218.2L320.1,218.2L321.1,218.3L322.1,218.4L323.1,218.5L324.1,218.6L325.1,218.7L326.1,218.7L327.1,218.8L328.1,218.9L329.1,218.9L330.1,219.0L331.1,219.1L332.1,219.1L333.1,219.2L334.1,219.2L335.1,219.3L336.1,219.3L337.1,219.3L338.1,219.4L339.1,219.4L340.1,219.4L341.1,219.5L342.1,219.5L343.1,219.5L344.1,219.5L345.1,219.6L346.1,219.6L347.1,219.6L348.1,219.6L349.1,219.6L350.1,219.6L351.1,219.6L352.1,219.6L353.1,219.6L353.1,219.7L240.1,219.7Z" fill="#e6dcdc"/>
<path d="M331.1,219.6L332.1,219.6L333.1,219.6L334.1,219.5L335.1,219.5L336.1,219.4L337.1,219.2L338.1,219.1L339.1,218.8L340.1,218.6L341.1,218.2L342.1,217.7L343.1,217.1L344.1,216.4L345.1,215.5L346.1,214.4L347.1,213.1L348.1,211.5L349.1,209.7L350.1,207.6L351.1,205.2L352.1,206.1L353.1,207.6L354.1,209.0L355.1,210.3L356.1,211.5L357.1,212.7L358.1,213.7L359.1,214.6L360.1,215.4L361.1,216.1L362.1,216.7L363.1,217.3L364.1,217.7L365.1,218.1L366.1,218.4L367.1,218.7L368.1,218.9L369.1,219.1L370.1,219.2L371.1,219.3L372.1,219.4L373.1,219.5L374.1,219.5L375.1,219.6L376.1,219.6L377.1,219.6L377.1,219.7L331.1,219.7Z" fill="#bab4c6"/>
<path d="M331.1,219.6L332.1,219.6L333.1,219.6L334.1,219.5L335.1,219.5L336.1,219.4L337.1,219.3L338.1,219.4L339.1,219.4L340.1,219.4L341.1,219.5L342.1,219.5L343.1,219.5L344.1,219.5L345.1,219.6L346.1,219.6L347.1,219.6L348.1,219.6L349.1,219.6L350.1,219.6L351.1,219.6L352.1,219.6L353.1,219.6L353.1,219.7L331.1,219.7Z" fill="#d8c4cc"/>
<path d="M298.1,219.6L299.1,219.6L300.1,219.6L301.1,219.6L302.1,219.5L303.1,219.5L304.1,219.4L305.1,219.3L306.1,219.2L307.1,219.0L308.1,218.8L309.1,218.6L310.1,218.4L311.1,218.0L312.1,217.7L313.1,217.6L314.1,217.7L315.1,217.8L316.1,217.9L317.1,218.0L318.1,218.1L319.1,218.2L320.1,218.2L321.1,218.3L322.1,218.4L323.1,218.5L324.1,218.6L325.1,218.7L326.1,218.7L327.1,218.8L328.1,218.9L329.1,218.9L330.1,219.0L331.1,219.1L332.1,219.1L333.1,219.2L334.1,219.2L335.1,219.3L336.1,219.3L337.1,219.3L338.1,219.4L339.1,219.4L340.1,219.4L341.1,219.5L342.1,219.5L343.1,219.5L344.1,219.5L345.1,219.6L346.1,219.6L347.1,219.6L348.1,219.6L349.1,219.6L350.1,219.6L351.1,219.6L352.1,219.6L353.1,219.6L353.1,219.7L298.1,219.7Z" fill="#c8ccd2"/>
<path d="M331.1,219.6L332.1,219.6L333.1,219.6L334.1,219.5L335.1,219.5L336.1,219.4L337.1,219.3L338.1,219.4L339.1,219.4L340.1,219.4L341.1,219.5L342.1,219.5L343.1,219.5L344.1,219.5L345.1,219.6L346.1,219.6L347.1,219.6L348.1,219.6L349.1,219.6L350.1,219.6L351.1,219.6L352.1,219.6L353.1,219.6L353.1,219.7L331.1,219.7Z" fill="#b0a8b8"/>
<path d="M240.1,219.6L241.1,219.6L242.1,219.6L243.1,219.6L244.1,219.6L245.1,219.6L246.1,219.6L247.1,219.5L248.1,219.5L249.1,219.5L250.1,219.5L251.1,219.5L252.1,219.4L253.1,219.4L254.1,219.4L255.1,219.3L256.1,219.3L257.1,219.2L258.1,219.2L259.1,219.2L260.1,219.1L261.1,219.0L262.1,219.0L263.1,218.9L264.1,218.9L265.1,218.8L266.1,218.7L267.1,218.6L268.1,218.6L269.1,218.5L270.1,218.4L271.1,218.3L272.1,218.2L273.1,218.1L274.1,218.1L275.1,218.0L276.1,217.9L277.1,217.8L278.1,217.7L279.1,217.6L280.1,217.5L281.1,217.4L282.1,217.3L283.1,217.3L284.1,217.2L285.1,217.1L286.1,217.0L287.1,217.0L288.1,216.9L289.1,216.9L290.1,216.8L291.1,216.8L292.1,216.7L293.1,216.7L294.1,216.7L295.1,216.6L296.1,216.6L297.1,216.6L298.1,216.6L299.1,216.5L300.1,216.4L301.1,216.4L302.1,216.3L303.1,216.1L304.1,216.0L305.1,215.8L306.1,215.6L307.1,215.3L308.1,215.1L309.1,214.8L310.1,214.5L311.1,214.2L312.1,213.9L313.1,213.5L314.1,213.1L315.1,212.7L316.1,212.2L317.1,211.7L318.1,211.1L319.1,210.4L320.1,209.5L321.1,208.6L322.1,207.6L323.1,206.4L324.1,205.2L325.1,203.9L326.1,202.5L327.1,201.1L328.1,199.6L329.1,198.2L330.1,196.7L331.1,195.3L332.1,194.0L333.1,192.8L334.1,191.7L335.1,190.7L336.1,189.9L337.1,189.2L338.1,188.7L339.1,188.3L340.1,188.0L341.1,187.9L342.1,187.9L343.1,188.0L344.1,188.1L345.1,188.1L346.1,188.2L347.1,188.1L348.1,187.9L349.1,187.5L350.1,186.8L351.1,185.9L352.1,184.7L353.1,183.1L354.1,181.3L355.1,179.1L356.1,176.7L357.1,174.0L358.1,171.1L359.1,168.1L360.1,165.1L361.1,162.1L362.1,159.2L363.1,156.6L364.1,154.2L365.1,152.3L366.1,150.9L367.1,149.9L368.1,149.6L369.1,149.9L370.1,150.7L371.1,152.1L372.1,153.9L373.1,156.2L374.1,158.9L375.1,161.9L376.1,165.2L377.1,168.8L378.1,172.5L379.1,176.3L380.1,180.1L381.1,183.9L382.1,187.6L383.1,191.2L384.1,194.5L385.1,197.7L386.1,200.6L387.1,203.3L388.1,205.7L389.1,207.9L390.1,209.8L391.1,211.4L392.1,212.9L393.1,214.1L394.1,215.2L395.1,216.1L396.1,216.8L397.1,217.4L398.1,217.9L399.1,218.3L400.1,218.6L401.1,218.9L402.1,219.1L403.1,219.2L404.1,219.4L405.1,219.4L406.1,219.5L407.1,219.6L408.1,219.6L409.1,219.6L410.1,219.6L411.1,219.7L412.1,219.7L413.1,219.7L414.1,219.7L415.1,219.7L416.1,219.7L417.1,219.7L418.1,219.7L419.1,219.7L420.1,219.7L421.1,219.7L422.1,219.7L423.1,219.7L424.1,219.7L425.1,219.7L426.1,219.7L427.1,219.7L428.1,219.7L429.1,219.7L430.1,219.7L431.1,219.7L432.1,219.7L433.1,219.7L434.1,219.7L435.1,219.7L436.1,219.7L437.1,219.7L438.1,219.7L438.4,219.7" fill="none" stroke="#5a5f4c" stroke-width="1.2" stroke-linejoin="round"/>
<path d="M240.1,219.7L241.1,219.7L242.1,219.7L243.1,219.7L244.1,219.7L245.1,219.7L246.1,219.7L247.1,219.7L248.1,219.7L249.1,219.7L250.1,219.7L251.1,219.7L252.1,219.7L253.1,219.7L254.1,219.7L255.1,219.7L256.1,219.7L257.1,219.7L258.1,219.7L259.1,219.7L260.1,219.7L261.1,219.7" fill="none" stroke="#d9487f" stroke-width="1.2" stroke-linejoin="round"/>
<path d="M260.1,219.7L261.1,219.7L262.1,219.7L263.1,219.7L264.1,219.7L265.1,219.7L266.1,219.7L267.1,219.7L268.1,219.7L269.1,219.7L270.1,219.7L271.1,219.7L272.1,219.7L273.1,219.7L274.1,219.7L275.1,219.7L276.1,219.7L277.1,219.7L278.1,219.7L279.1,219.7L280.1,219.7L281.1,219.7L282.1,219.7L283.1,219.7L284.1,219.7L285.1,219.7L286.1,219.7L287.1,219.7L288.1,219.7L289.1,219.7L290.1,219.7L291.1,219.7L292.1,219.7L293.1,219.7L294.1,219.7L295.1,219.7L296.1,219.7L297.1,219.7L298.1,219.7L299.1,219.7L300.1,219.7L301.1,219.7L302.1,219.7L303.1,219.7L304.1,219.7L305.1,219.7L306.1,219.7L307.1,219.7L308.1,219.7L309.1,219.7L310.1,219.7L311.1,219.7L312.1,219.7L313.1,219.7L314.1,219.7L315.1,219.7L316.1,219.7L317.1,219.7L318.1,219.7L319.1,219.7L320.1,219.7L321.1,219.7L322.1,219.7L323.1,219.7L324.1,219.7L325.1,219.7L326.1,219.7L327.1,219.7L328.1,219.7L329.1,219.7L330.1,219.7L331.1,219.6" fill="none" stroke="#9e5a8c" stroke-width="1.2" stroke-linejoin="round"/>
<path d="M330.1,219.7L331.1,219.6L332.1,219.6L333.1,219.6L334.1,219.5L335.1,219.5L336.1,219.4L337.1,219.2L338.1,219.1L339.1,218.8L340.1,218.6L341.1,218.2L342.1,217.7L343.1,217.1L344.1,216.4L345.1,215.5L346.1,214.4L347.1,213.1L348.1,211.5L349.1,209.7L350.1,207.6L351.1,205.2L352.1,202.5" fill="none" stroke="#9e5a8c" stroke-width="1.2" stroke-linejoin="round"/>
<path d="M352.1,202.5L353.1,199.5L354.1,196.2L355.1,192.7L356.1,188.9L357.1,184.9L358.1,180.8L359.1,176.7L360.1,172.6L361.1,168.6L362.1,164.8L363.1,161.4L364.1,158.3L365.1,155.8L366.1,153.8L367.1,152.4L368.1,151.6L369.1,151.5L370.1,152.1L371.1,153.1L372.1,154.7L373.1,156.8L374.1,159.4L375.1,162.3L376.1,165.5L377.1,169.0L378.1,172.7L379.1,176.4L380.1,180.2L381.1,184.0L382.1,187.7L383.1,191.2L384.1,194.6L385.1,197.7L386.1,200.6L387.1,203.3L388.1,205.7L389.1,207.9L390.1,209.8L391.1,211.4L392.1,212.9L393.1,214.1L394.1,215.2L395.1,216.1L396.1,216.8L397.1,217.4L398.1,217.9L399.1,218.3L400.1,218.6L401.1,218.9L402.1,219.1L403.1,219.2L404.1,219.4L405.1,219.4L406.1,219.5L407.1,219.6L408.1,219.6L409.1,219.6L410.1,219.6L411.1,219.7L412.1,219.7L413.1,219.7L414.1,219.7L415.1,219.7L416.1,219.7L417.1,219.7L418.1,219.7L419.1,219.7L420.1,219.7L421.1,219.7L422.1,219.7L423.1,219.7L424.1,219.7L425.1,219.7L426.1,219.7L427.1,219.7L428.1,219.7L429.1,219.7L430.1,219.7L431.1,219.7L432.1,219.7L433.1,219.7L434.1,219.7L435.1,219.7L436.1,219.7L437.1,219.7L438.1,219.7L438.4,219.7" fill="none" stroke="#d9487f" stroke-width="1.2" stroke-linejoin="round"/>
<path d="M240.1,219.7L241.1,219.7L242.1,219.7L243.1,219.7L244.1,219.7L245.1,219.7L246.1,219.7L247.1,219.7L248.1,219.7L249.1,219.7L250.1,219.7L251.1,219.7L252.1,219.7L253.1,219.7L254.1,219.7L255.1,219.7L256.1,219.7L257.1,219.7L258.1,219.7L259.1,219.7L260.1,219.7L261.1,219.7" fill="none" stroke="#3b8b98" stroke-width="1.2" stroke-linejoin="round"/>
<path d="M260.1,219.7L261.1,219.7L262.1,219.7L263.1,219.7L264.1,219.7L265.1,219.7L266.1,219.7L267.1,219.7L268.1,219.7L269.1,219.7L270.1,219.7L271.1,219.7L272.1,219.7L273.1,219.7L274.1,219.7L275.1,219.7L276.1,219.7L277.1,219.7L278.1,219.7L279.1,219.7L280.1,219.7L281.1,219.7L282.1,219.7L283.1,219.7L284.1,219.7L285.1,219.7L286.1,219.7L287.1,219.7L288.1,219.7L289.1,219.7L290.1,219.7L291.1,219.7L292.1,219.7L293.1,219.7L294.1,219.7L295.1,219.7L296.1,219.7L297.1,219.7L298.1,219.6L299.1,219.6L300.1,219.6L301.1,219.6L302.1,219.5L303.1,219.5L304.1,219.4L305.1,219.3L306.1,219.2L307.1,219.0L308.1,218.8L309.1,218.6L310.1,218.4L311.1,218.0" fill="none" stroke="#3b8b98" stroke-width="1.2" stroke-linejoin="round"/>
<path d="M311.1,218.0L312.1,217.7L313.1,217.2L314.1,216.7L315.1,216.1L316.1,215.4L317.1,214.7L318.1,213.8L319.1,212.8L320.1,211.8L321.1,210.6L322.1,209.4L323.1,208.0L324.1,206.6L325.1,205.2L326.1,203.7L327.1,202.2L328.1,200.7L329.1,199.2L330.1,197.7L331.1,196.3L332.1,195.1L333.1,193.9L334.1,192.9L335.1,192.1L336.1,191.5L337.1,191.0L338.1,190.8L339.1,190.8L340.1,191.1L341.1,191.5L342.1,192.2L343.1,193.1L344.1,194.2L345.1,195.4L346.1,196.8L347.1,198.3L348.1,199.8L349.1,201.4L350.1,203.0L351.1,204.5L352.1,206.1L353.1,207.6L354.1,209.0L355.1,210.3L356.1,211.5L357.1,212.7L358.1,213.7L359.1,214.6L360.1,215.4L361.1,216.1L362.1,216.7L363.1,217.3L364.1,217.7L365.1,218.1L366.1,218.4L367.1,218.7L368.1,218.9L369.1,219.1L370.1,219.2L371.1,219.3L372.1,219.4L373.1,219.5L374.1,219.5L375.1,219.6L376.1,219.6L377.1,219.6L378.1,219.7L379.1,219.7L380.1,219.7L381.1,219.7L382.1,219.7L383.1,219.7L384.1,219.7L385.1,219.7L386.1,219.7L387.1,219.7L388.1,219.7L389.1,219.7L390.1,219.7L391.1,219.7L392.1,219.7L393.1,219.7L394.1,219.7L395.1,219.7L396.1,219.7L397.1,219.7L398.1,219.7L399.1,219.7L400.1,219.7L401.1,219.7L402.1,219.7L403.1,219.7L404.1,219.7L405.1,219.7L406.1,219.7L407.1,219.7L408.1,219.7L409.1,219.7L410.1,219.7L411.1,219.7L412.1,219.7L413.1,219.7L414.1,219.7L415.1,219.7L416.1,219.7L417.1,219.7L418.1,219.7L419.1,219.7L420.1,219.7L421.1,219.7L422.1,219.7L423.1,219.7L424.1,219.7L425.1,219.7L426.1,219.7L427.1,219.7L428.1,219.7L429.1,219.7L430.1,219.7L431.1,219.7L432.1,219.7L433.1,219.7L434.1,219.7L435.1,219.7L436.1,219.7L437.1,219.7L438.1,219.7L438.4,219.7" fill="none" stroke="#3b8b98" stroke-width="1.2" stroke-linejoin="round"/>
<path d="M240.1,219.6L241.1,219.6L242.1,219.6L243.1,219.6L244.1,219.6L245.1,219.6L246.1,219.6L247.1,219.5L248.1,219.5L249.1,219.5L250.1,219.5L251.1,219.5L252.1,219.4L253.1,219.4L254.1,219.4L255.1,219.3L256.1,219.3L257.1,219.2L258.1,219.2L259.1,219.2L260.1,219.1L261.1,219.0L262.1,219.0L263.1,218.9L264.1,218.9L265.1,218.8L266.1,218.7L267.1,218.6L268.1,218.6L269.1,218.5L270.1,218.4L271.1,218.3L272.1,218.2L273.1,218.1L274.1,218.1L275.1,218.0L276.1,217.9L277.1,217.8L278.1,217.7L279.1,217.6L280.1,217.5L281.1,217.4L282.1,217.3L283.1,217.3L284.1,217.2L285.1,217.1L286.1,217.0L287.1,217.0L288.1,216.9L289.1,216.9L290.1,216.8L291.1,216.8L292.1,216.8L293.1,216.7L294.1,216.7L295.1,216.7L296.1,216.7L297.1,216.7L298.1,216.7L299.1,216.7L300.1,216.8L301.1,216.8L302.1,216.8L303.1,216.9L304.1,216.9L305.1,217.0L306.1,217.1L307.1,217.1L308.1,217.2L309.1,217.3L310.1,217.4L311.1,217.4L312.1,217.5L313.1,217.6L314.1,217.7L315.1,217.8L316.1,217.9L317.1,218.0L318.1,218.1L319.1,218.2L320.1,218.2L321.1,218.3L322.1,218.4L323.1,218.5L324.1,218.6L325.1,218.7L326.1,218.7L327.1,218.8L328.1,218.9L329.1,218.9L330.1,219.0L331.1,219.1L332.1,219.1L333.1,219.2L334.1,219.2L335.1,219.3L336.1,219.3L337.1,219.3L338.1,219.4L339.1,219.4L340.1,219.4L341.1,219.5L342.1,219.5L343.1,219.5L344.1,219.5L345.1,219.6L346.1,219.6L347.1,219.6L348.1,219.6L349.1,219.6L350.1,219.6L351.1,219.6L352.1,219.6L353.1,219.6L354.1,219.7L355.1,219.7L356.1,219.7L357.1,219.7L358.1,219.7L359.1,219.7L360.1,219.7L361.1,219.7L362.1,219.7L363.1,219.7L364.1,219.7L365.1,219.7L366.1,219.7L367.1,219.7L368.1,219.7L369.1,219.7L370.1,219.7L371.1,219.7L372.1,219.7L373.1,219.7L374.1,219.7L375.1,219.7L376.1,219.7L377.1,219.7L378.1,219.7L379.1,219.7L380.1,219.7L381.1,219.7L382.1,219.7L383.1,219.7L384.1,219.7L385.1,219.7L386.1,219.7L387.1,219.7L388.1,219.7L389.1,219.7L390.1,219.7L391.1,219.7L392.1,219.7L393.1,219.7L394.1,219.7L395.1,219.7L396.1,219.7L397.1,219.7L398.1,219.7L399.1,219.7L400.1,219.7L401.1,219.7L402.1,219.7L403.1,219.7L404.1,219.7L405.1,219.7L406.1,219.7L407.1,219.7L408.1,219.7L409.1,219.7L410.1,219.7L411.1,219.7L412.1,219.7L413.1,219.7L414.1,219.7L415.1,219.7L416.1,219.7L417.1,219.7L418.1,219.7L419.1,219.7L420.1,219.7L421.1,219.7L422.1,219.7L423.1,219.7L424.1,219.7L425.1,219.7L426.1,219.7L427.1,219.7L428.1,219.7L429.1,219.7L430.1,219.7L431.1,219.7L432.1,219.7L433.1,219.7L434.1,219.7L435.1,219.7L436.1,219.7L437.1,219.7L438.1,219.7L438.4,219.7" fill="none" stroke="#6e4646" stroke-width="0.9" stroke-linejoin="round"/>
<line x1="240.1" y1="219.80" x2="438.4" y2="219.80" stroke="#7a5252" stroke-width="0.9"/>
</g>
<rect x="240.1" y="137.5" width="198.29999999999998" height="89.5" fill="none" stroke="#000" stroke-width="1.6"/>
<line x1="418.40" y1="227.0" x2="418.40" y2="229.6" stroke="#000" stroke-width="1.2"/>
<text transform="translate(418.40,237.80) scale(0.88,1)" font-size="8.5" text-anchor="middle" fill="#333">282</text>
<line x1="398.62" y1="227.0" x2="398.62" y2="228.7" stroke="#000" stroke-width="1.2"/>
<line x1="378.85" y1="227.0" x2="378.85" y2="229.6" stroke="#000" stroke-width="1.2"/>
<text transform="translate(378.85,237.80) scale(0.88,1)" font-size="8.5" text-anchor="middle" fill="#333">284</text>
<line x1="359.07" y1="227.0" x2="359.07" y2="228.7" stroke="#000" stroke-width="1.2"/>
<line x1="339.30" y1="227.0" x2="339.30" y2="229.6" stroke="#000" stroke-width="1.2"/>
<text transform="translate(339.30,237.80) scale(0.88,1)" font-size="8.5" text-anchor="middle" fill="#333">286</text>
<line x1="319.52" y1="227.0" x2="319.52" y2="228.7" stroke="#000" stroke-width="1.2"/>
<line x1="299.75" y1="227.0" x2="299.75" y2="229.6" stroke="#000" stroke-width="1.2"/>
<text transform="translate(299.75,237.80) scale(0.88,1)" font-size="8.5" text-anchor="middle" fill="#333">288</text>
<line x1="279.97" y1="227.0" x2="279.97" y2="228.7" stroke="#000" stroke-width="1.2"/>
<line x1="260.20" y1="227.0" x2="260.20" y2="229.6" stroke="#000" stroke-width="1.2"/>
<text transform="translate(260.20,237.80) scale(0.88,1)" font-size="8.5" text-anchor="middle" fill="#333">290</text>
<line x1="240.42" y1="227.0" x2="240.42" y2="228.7" stroke="#000" stroke-width="1.2"/>
<line x1="245.0" y1="143.60" x2="261.0" y2="143.60" stroke="#5a5f4c" stroke-width="1.1"/>
<text x="263.20" y="145.90" font-size="7.3" fill="#555">DLNP</text>
<rect x="245.30" y="148.10" width="14.9" height="7.5" fill="#f5d1de" stroke="#e8b4c6" stroke-width="0.6"/>
<text x="263.20" y="154.50" font-size="7.3" fill="#555">C-C, C=C</text>
<rect x="245.30" y="156.90" width="14.9" height="7.5" fill="#d3e1e5" stroke="#b8ccd2" stroke-width="0.6"/>
<text x="263.20" y="163.30" font-size="7.3" fill="#555">C-O-C, C-OH</text>
<rect x="245.30" y="165.70" width="14.9" height="7.5" fill="#ddd5d6" stroke="#b0a0a0" stroke-width="0.6"/>
<text x="263.20" y="172.10" font-size="7.3" fill="#555">C=O, O-C=O</text>
<clipPath id="clip485_22"><rect x="485" y="22" width="198" height="88.9"/></clipPath>
<g clip-path="url(#clip485_22)">
<path d="M526.0,103.0L527.0,103.0L528.0,103.0L529.0,103.0L530.0,102.9L531.0,102.9L532.0,102.8L533.0,102.8L534.0,102.7L535.0,102.6L536.0,102.5L537.0,102.3L538.0,102.2L539.0,102.0L540.0,101.7L541.0,101.4L542.0,101.1L543.0,100.7L544.0,100.3L545.0,99.7L546.0,99.2L547.0,98.5L548.0,97.7L549.0,96.8L550.0,95.9L551.0,94.8L552.0,93.6L553.0,92.3L554.0,90.9L555.0,89.3L556.0,87.7L557.0,85.9L558.0,84.0L559.0,82.0L560.0,79.9L561.0,77.7L562.0,75.5L563.0,73.2L564.0,70.9L565.0,68.6L566.0,66.3L567.0,64.1L568.0,61.9L569.0,59.8L570.0,57.8L571.0,56.0L572.0,54.3L573.0,52.8L574.0,51.6L575.0,50.5L576.0,49.7L577.0,49.2L578.0,48.9L579.0,48.9L580.0,49.2L581.0,49.8L582.0,50.7L583.0,51.8L584.0,53.2L585.0,54.7L586.0,56.5L587.0,58.5L588.0,60.6L589.0,62.9L590.0,65.2L591.0,67.6L592.0,70.0L593.0,72.4L594.0,74.8L595.0,77.1L596.0,79.4L597.0,81.6L598.0,83.7L599.0,85.7L600.0,87.6L601.0,89.3L602.0,90.9L603.0,92.4L604.0,93.8L605.0,95.0L606.0,96.1L607.0,97.1L608.0,97.9L609.0,98.7L610.0,99.4L611.0,100.0L612.0,100.5L613.0,100.9L614.0,101.3L615.0,101.6L616.0,101.9L617.0,102.1L618.0,102.3L619.0,102.5L620.0,102.6L621.0,102.7L622.0,102.8L623.0,102.8L624.0,102.9L625.0,102.9L626.0,103.0L627.0,103.0L628.0,103.0L629.0,103.0L629.0,103.1L526.0,103.1Z" fill="#dcf6d3"/>
<path d="M499.0,103.0L500.0,103.0L501.0,103.0L502.0,103.0L503.0,103.0L504.0,103.0L505.0,102.9L506.0,102.9L507.0,102.8L508.0,102.8L509.0,102.7L510.0,102.7L511.0,102.6L512.0,102.5L513.0,102.4L514.0,102.3L515.0,102.1L516.0,102.0L517.0,101.8L518.0,101.6L519.0,101.4L520.0,101.1L521.0,100.9L522.0,100.6L523.0,100.2L524.0,99.9L525.0,99.5L526.0,99.1L527.0,98.6L528.0,98.1L529.0,97.6L530.0,97.1L531.0,96.5L532.0,95.9L533.0,95.2L534.0,94.6L535.0,93.9L536.0,93.2L537.0,92.4L538.0,91.7L539.0,91.0L540.0,90.3L541.0,89.5L542.0,88.8L543.0,88.2L544.0,87.5L545.0,86.9L546.0,86.3L547.0,85.7L548.0,85.2L549.0,84.8L550.0,84.4L551.0,84.1L552.0,83.8L553.0,83.6L554.0,83.5L555.0,83.5L556.0,83.5L557.0,83.7L558.0,83.9L559.0,84.2L560.0,84.5L561.0,85.0L562.0,85.5L563.0,86.0L564.0,86.7L565.0,87.3L566.0,88.0L567.0,88.7L568.0,89.5L569.0,90.3L570.0,91.1L571.0,91.8L572.0,92.6L573.0,93.4L574.0,94.1L575.0,94.9L576.0,95.6L577.0,96.2L578.0,96.9L579.0,97.5L580.0,98.0L581.0,98.6L582.0,99.1L583.0,99.5L584.0,99.9L585.0,100.3L586.0,100.7L587.0,101.0L588.0,101.2L589.0,101.5L590.0,101.7L591.0,101.9L592.0,102.1L593.0,102.2L594.0,102.4L595.0,102.5L596.0,102.6L597.0,102.7L598.0,102.7L599.0,102.8L600.0,102.9L601.0,102.9L602.0,102.9L603.0,103.0L604.0,103.0L605.0,103.0L606.0,103.0L607.0,103.0L607.0,103.1L499.0,103.1Z" fill="#fcf3be"/>
<path d="M547.0,103.0L548.0,103.0L549.0,103.0L550.0,103.0L551.0,103.0L552.0,102.9L553.0,102.9L554.0,102.9L555.0,102.8L556.0,102.8L557.0,102.7L558.0,102.6L559.0,102.6L560.0,102.5L561.0,102.4L562.0,102.2L563.0,102.1L564.0,101.9L565.0,101.7L566.0,101.5L567.0,101.3L568.0,101.0L569.0,100.7L570.0,100.4L571.0,100.0L572.0,99.6L573.0,99.2L574.0,98.7L575.0,98.1L576.0,97.6L577.0,97.0L578.0,96.3L579.0,95.6L580.0,94.9L581.0,94.1L582.0,93.3L583.0,92.5L584.0,91.6L585.0,90.7L586.0,89.8L587.0,88.9L588.0,87.9L589.0,87.0L590.0,86.1L591.0,85.1L592.0,84.2L593.0,83.4L594.0,82.5L595.0,81.7L596.0,81.0L597.0,80.3L598.0,79.6L599.0,79.1L600.0,78.6L601.0,78.2L602.0,77.9L603.0,77.7L604.0,77.5L605.0,77.5L606.0,77.5L607.0,77.7L608.0,77.9L609.0,78.2L610.0,78.5L611.0,79.0L612.0,79.5L613.0,80.0L614.0,80.7L615.0,81.3L616.0,82.1L617.0,82.8L618.0,83.6L619.0,84.5L620.0,85.3L621.0,86.2L622.0,87.0L623.0,87.9L624.0,88.8L625.0,89.7L626.0,90.5L627.0,91.4L628.0,92.2L629.0,93.0L630.0,93.7L631.0,94.5L632.0,95.2L633.0,95.8L634.0,96.5L635.0,97.1L636.0,97.6L637.0,98.2L638.0,98.6L639.0,99.1L640.0,99.5L641.0,99.9L642.0,100.3L643.0,100.6L644.0,100.9L645.0,101.1L646.0,101.4L647.0,101.6L648.0,101.8L649.0,102.0L650.0,102.1L651.0,102.2L652.0,102.4L653.0,102.5L654.0,102.6L655.0,102.6L656.0,102.7L657.0,102.8L658.0,102.8L659.0,102.9L660.0,102.9L661.0,102.9L662.0,103.0L663.0,103.0L664.0,103.0L665.0,103.0L666.0,103.0L667.0,103.0L667.0,103.1L547.0,103.1Z" fill="#e4d3ea"/>
<path d="M526.0,103.0L527.0,103.0L528.0,103.0L529.0,103.0L530.0,102.9L531.0,102.9L532.0,102.8L533.0,102.8L534.0,102.7L535.0,102.6L536.0,102.5L537.0,102.3L538.0,102.2L539.0,102.0L540.0,101.7L541.0,101.4L542.0,101.1L543.0,100.7L544.0,100.3L545.0,99.7L546.0,99.2L547.0,98.5L548.0,97.7L549.0,96.8L550.0,95.9L551.0,94.8L552.0,93.6L553.0,92.3L554.0,90.9L555.0,89.3L556.0,87.7L557.0,85.9L558.0,84.0L559.0,84.2L560.0,84.5L561.0,85.0L562.0,85.5L563.0,86.0L564.0,86.7L565.0,87.3L566.0,88.0L567.0,88.7L568.0,89.5L569.0,90.3L570.0,91.1L571.0,91.8L572.0,92.6L573.0,93.4L574.0,94.1L575.0,94.9L576.0,95.6L577.0,96.2L578.0,96.9L579.0,97.5L580.0,98.0L581.0,98.6L582.0,99.1L583.0,99.5L584.0,99.9L585.0,100.3L586.0,100.7L587.0,101.0L588.0,101.2L589.0,101.5L590.0,101.7L591.0,101.9L592.0,102.1L593.0,102.2L594.0,102.4L595.0,102.5L596.0,102.6L597.0,102.7L598.0,102.7L599.0,102.8L600.0,102.9L601.0,102.9L602.0,102.9L603.0,103.0L604.0,103.0L605.0,103.0L606.0,103.0L607.0,103.0L607.0,103.1L526.0,103.1Z" fill="#e2ea86"/>
<path d="M547.0,103.0L548.0,103.0L549.0,103.0L550.0,103.0L551.0,103.0L552.0,102.9L553.0,102.9L554.0,102.9L555.0,102.8L556.0,102.8L557.0,102.7L558.0,102.6L559.0,102.6L560.0,102.5L561.0,102.4L562.0,102.2L563.0,102.1L564.0,101.9L565.0,101.7L566.0,101.5L567.0,101.3L568.0,101.0L569.0,100.7L570.0,100.4L571.0,100.0L572.0,99.6L573.0,99.2L574.0,98.7L575.0,98.1L576.0,97.6L577.0,97.0L578.0,96.3L579.0,95.6L580.0,94.9L581.0,94.1L582.0,93.3L583.0,92.5L584.0,91.6L585.0,90.7L586.0,89.8L587.0,88.9L588.0,87.9L589.0,87.0L590.0,86.1L591.0,85.1L592.0,84.2L593.0,83.4L594.0,82.5L595.0,81.7L596.0,81.0L597.0,81.6L598.0,83.7L599.0,85.7L600.0,87.6L601.0,89.3L602.0,90.9L603.0,92.4L604.0,93.8L605.0,95.0L606.0,96.1L607.0,97.1L608.0,97.9L609.0,98.7L610.0,99.4L611.0,100.0L612.0,100.5L613.0,100.9L614.0,101.3L615.0,101.6L616.0,101.9L617.0,102.1L618.0,102.3L619.0,102.5L620.0,102.6L621.0,102.7L622.0,102.8L623.0,102.8L624.0,102.9L625.0,102.9L626.0,103.0L627.0,103.0L628.0,103.0L629.0,103.0L629.0,103.1L547.0,103.1Z" fill="#bab4bf"/>
<path d="M547.0,103.0L548.0,103.0L549.0,103.0L550.0,103.0L551.0,103.0L552.0,102.9L553.0,102.9L554.0,102.9L555.0,102.8L556.0,102.8L557.0,102.7L558.0,102.6L559.0,102.6L560.0,102.5L561.0,102.4L562.0,102.2L563.0,102.1L564.0,101.9L565.0,101.7L566.0,101.5L567.0,101.3L568.0,101.0L569.0,100.7L570.0,100.4L571.0,100.0L572.0,99.6L573.0,99.2L574.0,98.7L575.0,98.1L576.0,97.6L577.0,97.0L578.0,96.9L579.0,97.5L580.0,98.0L581.0,98.6L582.0,99.1L583.0,99.5L584.0,99.9L585.0,100.3L586.0,100.7L587.0,101.0L588.0,101.2L589.0,101.5L590.0,101.7L591.0,101.9L592.0,102.1L593.0,102.2L594.0,102.4L595.0,102.5L596.0,102.6L597.0,102.7L598.0,102.7L599.0,102.8L600.0,102.9L601.0,102.9L602.0,102.9L603.0,103.0L604.0,103.0L605.0,103.0L606.0,103.0L607.0,103.0L607.0,103.1L547.0,103.1Z" fill="#c0a898"/>
<path d="M547.0,103.0L548.0,103.0L549.0,103.0L550.0,103.0L551.0,103.0L552.0,102.9L553.0,102.9L554.0,102.9L555.0,102.8L556.0,102.8L557.0,102.7L558.0,102.6L559.0,102.6L560.0,102.5L561.0,102.4L562.0,102.2L563.0,102.1L564.0,101.9L565.0,101.7L566.0,101.5L567.0,101.3L568.0,101.0L569.0,100.7L570.0,100.4L571.0,100.0L572.0,99.6L573.0,99.2L574.0,98.7L575.0,98.1L576.0,97.6L577.0,97.0L578.0,96.9L579.0,97.5L580.0,98.0L581.0,98.6L582.0,99.1L583.0,99.5L584.0,99.9L585.0,100.3L586.0,100.7L587.0,101.0L588.0,101.2L589.0,101.5L590.0,101.7L591.0,101.9L592.0,102.1L593.0,102.2L594.0,102.4L595.0,102.5L596.0,102.6L597.0,102.7L598.0,102.7L599.0,102.8L600.0,102.9L601.0,102.9L602.0,102.9L603.0,103.0L604.0,103.0L605.0,103.0L606.0,103.0L607.0,103.0L607.0,103.1L547.0,103.1Z" fill="#bea694"/>
<path d="M485.0,103.1L486.0,103.1L487.0,103.1L488.0,103.1L489.0,103.1L490.0,103.1L491.0,103.1L492.0,103.1L493.0,103.1L494.0,103.1L495.0,103.1L496.0,103.1L497.0,103.1L498.0,103.1L499.0,103.0L500.0,103.0L501.0,103.0L502.0,103.0L503.0,103.0L504.0,103.0L505.0,102.9L506.0,102.9L507.0,102.8L508.0,102.8L509.0,102.7L510.0,102.7L511.0,102.6L512.0,102.5L513.0,102.4L514.0,102.3L515.0,102.1L516.0,102.0L517.0,101.8L518.0,101.6L519.0,101.4L520.0,101.1L521.0,100.9L522.0,100.6L523.0,100.2L524.0,99.9L525.0,99.5L526.0,99.0L527.0,98.5L528.0,98.0L529.0,97.5L530.0,96.9L531.0,96.3L532.0,95.6L533.0,94.9L534.0,94.1L535.0,93.4L536.0,92.5L537.0,91.7L538.0,90.8L539.0,89.8L540.0,88.8L541.0,87.8L542.0,86.7L543.0,85.6L544.0,84.4L545.0,83.2L546.0,81.9L547.0,80.6L548.0,79.2L549.0,77.7L550.0,76.1L551.0,74.5L552.0,72.8L553.0,71.0L554.0,69.1L555.0,67.1L556.0,65.0L557.0,62.9L558.0,60.8L559.0,58.6L560.0,56.4L561.0,54.2L562.0,52.0L563.0,49.8L564.0,47.8L565.0,45.8L566.0,43.9L567.0,42.1L568.0,40.5L569.0,39.0L570.0,37.7L571.0,36.6L572.0,35.6L573.0,34.8L574.0,34.2L575.0,33.7L576.0,33.5L577.0,33.4L578.0,33.4L579.0,33.7L580.0,34.0L581.0,34.6L582.0,35.3L583.0,36.1L584.0,37.1L585.0,38.1L586.0,39.3L587.0,40.6L588.0,41.9L589.0,43.3L590.0,44.7L591.0,46.2L592.0,47.7L593.0,49.3L594.0,50.9L595.0,52.5L596.0,54.1L597.0,55.8L598.0,57.4L599.0,59.1L600.0,60.7L601.0,62.3L602.0,63.8L603.0,65.3L604.0,66.8L605.0,68.2L606.0,69.6L607.0,70.9L608.0,72.1L609.0,73.3L610.0,74.5L611.0,75.6L612.0,76.7L613.0,77.7L614.0,78.8L615.0,79.8L616.0,80.8L617.0,81.8L618.0,82.8L619.0,83.8L620.0,84.8L621.0,85.8L622.0,86.7L623.0,87.7L624.0,88.6L625.0,89.5L626.0,90.4L627.0,91.3L628.0,92.1L629.0,92.9L630.0,93.7L631.0,94.4L632.0,95.1L633.0,95.8L634.0,96.5L635.0,97.1L636.0,97.6L637.0,98.2L638.0,98.6L639.0,99.1L640.0,99.5L641.0,99.9L642.0,100.3L643.0,100.6L644.0,100.9L645.0,101.1L646.0,101.4L647.0,101.6L648.0,101.8L649.0,102.0L650.0,102.1L651.0,102.2L652.0,102.4L653.0,102.5L654.0,102.6L655.0,102.6L656.0,102.7L657.0,102.8L658.0,102.8L659.0,102.9L660.0,102.9L661.0,102.9L662.0,103.0L663.0,103.0L664.0,103.0L665.0,103.0L666.0,103.0L667.0,103.0L668.0,103.1L669.0,103.1L670.0,103.1L671.0,103.1L672.0,103.1L673.0,103.1L674.0,103.1L675.0,103.1L676.0,103.1L677.0,103.1L678.0,103.1L679.0,103.1L680.0,103.1L681.0,103.1L682.0,103.1L683.0,103.1" fill="none" stroke="#c99474" stroke-width="1.2" stroke-linejoin="round"/>
<path d="M485.0,103.1L486.0,103.1L487.0,103.1L488.0,103.1L489.0,103.1L490.0,103.1L491.0,103.1L492.0,103.1L493.0,103.1L494.0,103.1L495.0,103.1L496.0,103.1L497.0,103.1L498.0,103.1L499.0,103.1L500.0,103.1L501.0,103.1L502.0,103.1L503.0,103.1L504.0,103.1L505.0,103.1L506.0,103.1L507.0,103.1L508.0,103.1L509.0,103.1L510.0,103.1L511.0,103.1L512.0,103.1" fill="none" stroke="#7fd93d" stroke-width="1.2" stroke-linejoin="round"/>
<path d="M511.0,103.1L512.0,103.1L513.0,103.1L514.0,103.1L515.0,103.1L516.0,103.1L517.0,103.1L518.0,103.1L519.0,103.1L520.0,103.1L521.0,103.1L522.0,103.1L523.0,103.1L524.0,103.1L525.0,103.1L526.0,103.0L527.0,103.0L528.0,103.0L529.0,103.0L530.0,102.9L531.0,102.9L532.0,102.8L533.0,102.8L534.0,102.7L535.0,102.6L536.0,102.5L537.0,102.3L538.0,102.2L539.0,102.0L540.0,101.7L541.0,101.4L542.0,101.1L543.0,100.7L544.0,100.3L545.0,99.7L546.0,99.2L547.0,98.5L548.0,97.7L549.0,96.8L550.0,95.9L551.0,94.8L552.0,93.6L553.0,92.3L554.0,90.9L555.0,89.3L556.0,87.7L557.0,85.9L558.0,84.0" fill="none" stroke="#b4d83c" stroke-width="1.2" stroke-linejoin="round"/>
<path d="M558.0,84.0L559.0,82.0L560.0,79.9L561.0,77.7L562.0,75.5L563.0,73.2L564.0,70.9L565.0,68.6L566.0,66.3L567.0,64.1L568.0,61.9L569.0,59.8L570.0,57.8L571.0,56.0L572.0,54.3L573.0,52.8L574.0,51.6L575.0,50.5L576.0,49.7L577.0,49.2L578.0,48.9L579.0,48.9L580.0,49.2L581.0,49.8L582.0,50.7L583.0,51.8L584.0,53.2L585.0,54.7L586.0,56.5L587.0,58.5L588.0,60.6L589.0,62.9L590.0,65.2L591.0,67.6L592.0,70.0L593.0,72.4L594.0,74.8L595.0,77.1L596.0,79.4L597.0,81.6" fill="none" stroke="#7fd93d" stroke-width="1.2" stroke-linejoin="round"/>
<path d="M596.0,79.4L597.0,81.6L598.0,83.7L599.0,85.7L600.0,87.6L601.0,89.3L602.0,90.9L603.0,92.4L604.0,93.8L605.0,95.0L606.0,96.1L607.0,97.1L608.0,97.9L609.0,98.7L610.0,99.4L611.0,100.0L612.0,100.5L613.0,100.9L614.0,101.3L615.0,101.6L616.0,101.9L617.0,102.1L618.0,102.3L619.0,102.5L620.0,102.6L621.0,102.7L622.0,102.8L623.0,102.8L624.0,102.9L625.0,102.9L626.0,103.0L627.0,103.0L628.0,103.0L629.0,103.0L630.0,103.1L631.0,103.1L632.0,103.1L633.0,103.1L634.0,103.1L635.0,103.1L636.0,103.1L637.0,103.1L638.0,103.1L639.0,103.1L640.0,103.1L641.0,103.1L642.0,103.1L643.0,103.1L644.0,103.1L645.0,103.1L646.0,103.1L647.0,103.1L648.0,103.1L649.0,103.1L650.0,103.1L651.0,103.1L652.0,103.1L653.0,103.1L654.0,103.1" fill="none" stroke="#8c9c78" stroke-width="1.2" stroke-linejoin="round"/>
<path d="M654.0,103.1L655.0,103.1L656.0,103.1L657.0,103.1L658.0,103.1L659.0,103.1L660.0,103.1L661.0,103.1L662.0,103.1L663.0,103.1L664.0,103.1L665.0,103.1L666.0,103.1L667.0,103.1L668.0,103.1L669.0,103.1L670.0,103.1L671.0,103.1L672.0,103.1L673.0,103.1L674.0,103.1L675.0,103.1L676.0,103.1L677.0,103.1L678.0,103.1L679.0,103.1L680.0,103.1L681.0,103.1L682.0,103.1L683.0,103.1" fill="none" stroke="#7fd93d" stroke-width="1.2" stroke-linejoin="round"/>
<path d="M485.0,103.1L486.0,103.1L487.0,103.1L488.0,103.1L489.0,103.1L490.0,103.1L491.0,103.1L492.0,103.1L493.0,103.1L494.0,103.1L495.0,103.1L496.0,103.1L497.0,103.1L498.0,103.1L499.0,103.0L500.0,103.0L501.0,103.0L502.0,103.0L503.0,103.0L504.0,103.0L505.0,102.9L506.0,102.9L507.0,102.8L508.0,102.8L509.0,102.7L510.0,102.7L511.0,102.6L512.0,102.5L513.0,102.4L514.0,102.3L515.0,102.1L516.0,102.0L517.0,101.8L518.0,101.6L519.0,101.4L520.0,101.1L521.0,100.9L522.0,100.6L523.0,100.2L524.0,99.9L525.0,99.5L526.0,99.1L527.0,98.6L528.0,98.1L529.0,97.6L530.0,97.1L531.0,96.5L532.0,95.9L533.0,95.2L534.0,94.6L535.0,93.9L536.0,93.2L537.0,92.4L538.0,91.7L539.0,91.0L540.0,90.3L541.0,89.5L542.0,88.8L543.0,88.2L544.0,87.5L545.0,86.9L546.0,86.3L547.0,85.7L548.0,85.2L549.0,84.8L550.0,84.4L551.0,84.1L552.0,83.8L553.0,83.6L554.0,83.5L555.0,83.5L556.0,83.5L557.0,83.7L558.0,83.9L559.0,84.2L560.0,84.5L561.0,85.0L562.0,85.5L563.0,86.0L564.0,86.7L565.0,87.3L566.0,88.0L567.0,88.7L568.0,89.5L569.0,90.3L570.0,91.1L571.0,91.8L572.0,92.6L573.0,93.4L574.0,94.1L575.0,94.9L576.0,95.6L577.0,96.2L578.0,96.9L579.0,97.5" fill="none" stroke="#f2d200" stroke-width="1.25" stroke-linejoin="round"/>
<path d="M578.0,96.9L579.0,97.5L580.0,98.0L581.0,98.6L582.0,99.1L583.0,99.5L584.0,99.9L585.0,100.3L586.0,100.7L587.0,101.0L588.0,101.2L589.0,101.5L590.0,101.7L591.0,101.9L592.0,102.1L593.0,102.2L594.0,102.4L595.0,102.5L596.0,102.6L597.0,102.7L598.0,102.7L599.0,102.8L600.0,102.9L601.0,102.9L602.0,102.9L603.0,103.0L604.0,103.0L605.0,103.0L606.0,103.0L607.0,103.0L608.0,103.1L609.0,103.1L610.0,103.1L611.0,103.1L612.0,103.1L613.0,103.1L614.0,103.1L615.0,103.1L616.0,103.1L617.0,103.1L618.0,103.1L619.0,103.1L620.0,103.1L621.0,103.1L622.0,103.1L623.0,103.1L624.0,103.1L625.0,103.1L626.0,103.1L627.0,103.1L628.0,103.1L629.0,103.1L630.0,103.1L631.0,103.1L632.0,103.1L633.0,103.1L634.0,103.1L635.0,103.1L636.0,103.1L637.0,103.1L638.0,103.1L639.0,103.1L640.0,103.1L641.0,103.1L642.0,103.1L643.0,103.1L644.0,103.1L645.0,103.1L646.0,103.1L647.0,103.1L648.0,103.1L649.0,103.1L650.0,103.1L651.0,103.1L652.0,103.1L653.0,103.1L654.0,103.1" fill="none" stroke="#d9a040" stroke-width="1.25" stroke-linejoin="round"/>
<path d="M654.0,103.1L655.0,103.1L656.0,103.1L657.0,103.1L658.0,103.1L659.0,103.1L660.0,103.1L661.0,103.1L662.0,103.1L663.0,103.1L664.0,103.1L665.0,103.1L666.0,103.1L667.0,103.1L668.0,103.1L669.0,103.1L670.0,103.1L671.0,103.1L672.0,103.1L673.0,103.1L674.0,103.1L675.0,103.1L676.0,103.1L677.0,103.1L678.0,103.1L679.0,103.1L680.0,103.1L681.0,103.1L682.0,103.1L683.0,103.1" fill="none" stroke="#f2d200" stroke-width="1.25" stroke-linejoin="round"/>
<path d="M485.0,103.1L486.0,103.1L487.0,103.1L488.0,103.1L489.0,103.1L490.0,103.1L491.0,103.1L492.0,103.1L493.0,103.1L494.0,103.1L495.0,103.1L496.0,103.1L497.0,103.1L498.0,103.1L499.0,103.1L500.0,103.1L501.0,103.1L502.0,103.1L503.0,103.1L504.0,103.1L505.0,103.1L506.0,103.1L507.0,103.1L508.0,103.1L509.0,103.1L510.0,103.1L511.0,103.1L512.0,103.1L513.0,103.1L514.0,103.1L515.0,103.1L516.0,103.1L517.0,103.1L518.0,103.1L519.0,103.1L520.0,103.1L521.0,103.1L522.0,103.1L523.0,103.1L524.0,103.1L525.0,103.1L526.0,103.1L527.0,103.1L528.0,103.1L529.0,103.1L530.0,103.1L531.0,103.1L532.0,103.1L533.0,103.1L534.0,103.1L535.0,103.1L536.0,103.1L537.0,103.1L538.0,103.1L539.0,103.1L540.0,103.1L541.0,103.1L542.0,103.1L543.0,103.1L544.0,103.1L545.0,103.1L546.0,103.1L547.0,103.0L548.0,103.0L549.0,103.0L550.0,103.0L551.0,103.0L552.0,102.9L553.0,102.9L554.0,102.9L555.0,102.8L556.0,102.8L557.0,102.7L558.0,102.6L559.0,102.6L560.0,102.5L561.0,102.4L562.0,102.2L563.0,102.1L564.0,101.9L565.0,101.7L566.0,101.5L567.0,101.3L568.0,101.0L569.0,100.7L570.0,100.4L571.0,100.0L572.0,99.6L573.0,99.2L574.0,98.7L575.0,98.1L576.0,97.6L577.0,97.0L578.0,96.3L579.0,95.6L580.0,94.9L581.0,94.1L582.0,93.3L583.0,92.5L584.0,91.6L585.0,90.7L586.0,89.8L587.0,88.9L588.0,87.9L589.0,87.0L590.0,86.1L591.0,85.1L592.0,84.2L593.0,83.4L594.0,82.5L595.0,81.7L596.0,81.0L597.0,80.3L598.0,79.6L599.0,79.1L600.0,78.6L601.0,78.2L602.0,77.9L603.0,77.7L604.0,77.5L605.0,77.5L606.0,77.5L607.0,77.7L608.0,77.9L609.0,78.2L610.0,78.5L611.0,79.0L612.0,79.5L613.0,80.0L614.0,80.7L615.0,81.3L616.0,82.1L617.0,82.8L618.0,83.6L619.0,84.5L620.0,85.3L621.0,86.2L622.0,87.0L623.0,87.9L624.0,88.8L625.0,89.7L626.0,90.5L627.0,91.4L628.0,92.2L629.0,93.0L630.0,93.7L631.0,94.5L632.0,95.2L633.0,95.8L634.0,96.5L635.0,97.1L636.0,97.6L637.0,98.2L638.0,98.6L639.0,99.1L640.0,99.5L641.0,99.9L642.0,100.3L643.0,100.6L644.0,100.9L645.0,101.1L646.0,101.4L647.0,101.6L648.0,101.8L649.0,102.0L650.0,102.1L651.0,102.2L652.0,102.4L653.0,102.5L654.0,102.6L655.0,102.6L656.0,102.7L657.0,102.8L658.0,102.8L659.0,102.9L660.0,102.9L661.0,102.9L662.0,103.0L663.0,103.0L664.0,103.0L665.0,103.0L666.0,103.0L667.0,103.0L668.0,103.1L669.0,103.1L670.0,103.1L671.0,103.1L672.0,103.1L673.0,103.1L674.0,103.1L675.0,103.1L676.0,103.1L677.0,103.1L678.0,103.1L679.0,103.1L680.0,103.1L681.0,103.1L682.0,103.1L683.0,103.1" fill="none" stroke="#8e40ae" stroke-width="1.3" stroke-linejoin="round"/>
<line x1="485" y1="103.30" x2="683" y2="103.30" stroke="#8e40ae" stroke-width="1.0"/>
</g>
<rect x="485" y="22" width="198" height="88.9" fill="none" stroke="#000" stroke-width="1.6"/>
<line x1="682.75" y1="110.9" x2="682.75" y2="112.60000000000001" stroke="#000" stroke-width="1.2"/>
<line x1="654.50" y1="110.9" x2="654.50" y2="113.5" stroke="#000" stroke-width="1.2"/>
<text transform="translate(654.50,121.70) scale(0.88,1)" font-size="8.5" text-anchor="middle" fill="#333">530</text>
<line x1="626.25" y1="110.9" x2="626.25" y2="112.60000000000001" stroke="#000" stroke-width="1.2"/>
<line x1="598.00" y1="110.9" x2="598.00" y2="113.5" stroke="#000" stroke-width="1.2"/>
<text transform="translate(598.00,121.70) scale(0.88,1)" font-size="8.5" text-anchor="middle" fill="#333">532</text>
<line x1="569.75" y1="110.9" x2="569.75" y2="112.60000000000001" stroke="#000" stroke-width="1.2"/>
<line x1="541.50" y1="110.9" x2="541.50" y2="113.5" stroke="#000" stroke-width="1.2"/>
<text transform="translate(541.50,121.70) scale(0.88,1)" font-size="8.5" text-anchor="middle" fill="#333">534</text>
<line x1="513.25" y1="110.9" x2="513.25" y2="112.60000000000001" stroke="#000" stroke-width="1.2"/>
<line x1="485.00" y1="110.9" x2="485.00" y2="113.5" stroke="#000" stroke-width="1.2"/>
<text transform="translate(485.00,121.70) scale(0.88,1)" font-size="8.5" text-anchor="middle" fill="#333">536</text>
<line x1="489.3" y1="27.50" x2="505.3" y2="27.50" stroke="#c99474" stroke-width="1.1"/>
<text x="507.50" y="29.80" font-size="7.1" fill="#555">KL</text>
<rect x="489.60" y="32.00" width="14.9" height="7.5" fill="#fdf3be" stroke="#eee0a0" stroke-width="0.6"/>
<text x="507.50" y="38.40" font-size="7.1" fill="#555">-COO-</text>
<rect x="489.60" y="40.80" width="14.9" height="7.5" fill="#d9f4cf" stroke="#c0e4b4" stroke-width="0.6"/>
<text x="507.50" y="47.20" font-size="7.1" fill="#555">Ph-O, C-O</text>
<rect x="489.60" y="49.60" width="14.9" height="7.5" fill="#e4d2ea" stroke="#ccb4d6" stroke-width="0.6"/>
<text x="507.50" y="56.00" font-size="7.1" fill="#555">C=O, OH</text>
<clipPath id="clip485_137"><rect x="485" y="137.5" width="198" height="89.5"/></clipPath>
<g clip-path="url(#clip485_137)">
<path d="M515.0,219.7L516.0,219.7L517.0,219.7L518.0,219.7L519.0,219.7L520.0,219.6L521.0,219.6L522.0,219.5L523.0,219.5L524.0,219.4L525.0,219.3L526.0,219.2L527.0,219.1L528.0,219.0L529.0,218.8L530.0,218.6L531.0,218.3L532.0,218.1L533.0,217.7L534.0,217.4L535.0,216.9L536.0,216.5L537.0,215.9L538.0,215.3L539.0,214.6L540.0,213.8L541.0,212.9L542.0,211.9L543.0,210.9L544.0,209.7L545.0,208.4L546.0,207.0L547.0,205.5L548.0,203.9L549.0,202.2L550.0,200.3L551.0,198.4L552.0,196.4L553.0,194.3L554.0,192.2L555.0,190.0L556.0,187.7L557.0,185.4L558.0,183.1L559.0,180.8L560.0,178.6L561.0,176.4L562.0,174.3L563.0,172.3L564.0,170.4L565.0,168.6L566.0,167.0L567.0,165.6L568.0,164.4L569.0,163.3L570.0,162.6L571.0,162.0L572.0,161.7L573.0,161.6L574.0,161.8L575.0,162.2L576.0,162.9L577.0,163.8L578.0,164.9L579.0,166.2L580.0,167.7L581.0,169.4L582.0,171.2L583.0,173.2L584.0,175.3L585.0,177.4L586.0,179.7L587.0,182.0L588.0,184.3L589.0,186.6L590.0,188.9L591.0,191.1L592.0,193.3L593.0,195.5L594.0,197.5L595.0,199.5L596.0,201.4L597.0,203.1L598.0,204.8L599.0,206.4L600.0,207.8L601.0,209.2L602.0,210.4L603.0,211.5L604.0,212.5L605.0,213.4L606.0,214.3L607.0,215.0L608.0,215.7L609.0,216.3L610.0,216.8L611.0,217.2L612.0,217.6L613.0,218.0L614.0,218.2L615.0,218.5L616.0,218.7L617.0,218.9L618.0,219.1L619.0,219.2L620.0,219.3L621.0,219.4L622.0,219.5L623.0,219.5L624.0,219.6L625.0,219.6L626.0,219.7L627.0,219.7L628.0,219.7L629.0,219.7L630.0,219.7L630.0,219.8L515.0,219.8Z" fill="#dcf6d3"/>
<path d="M493.0,219.7L494.0,219.7L495.0,219.7L496.0,219.7L497.0,219.7L498.0,219.6L499.0,219.6L500.0,219.6L501.0,219.5L502.0,219.5L503.0,219.4L504.0,219.4L505.0,219.3L506.0,219.2L507.0,219.1L508.0,219.0L509.0,218.9L510.0,218.7L511.0,218.5L512.0,218.4L513.0,218.1L514.0,217.9L515.0,217.7L516.0,217.4L517.0,217.1L518.0,216.8L519.0,216.4L520.0,216.0L521.0,215.6L522.0,215.1L523.0,214.7L524.0,214.2L525.0,213.6L526.0,213.1L527.0,212.5L528.0,211.9L529.0,211.3L530.0,210.7L531.0,210.0L532.0,209.4L533.0,208.7L534.0,208.1L535.0,207.5L536.0,206.8L537.0,206.2L538.0,205.7L539.0,205.1L540.0,204.6L541.0,204.1L542.0,203.7L543.0,203.3L544.0,203.0L545.0,202.7L546.0,202.5L547.0,202.3L548.0,202.2L549.0,202.2L550.0,202.2L551.0,202.4L552.0,202.5L553.0,202.8L554.0,203.1L555.0,203.5L556.0,204.0L557.0,204.4L558.0,205.0L559.0,205.6L560.0,206.2L561.0,206.8L562.0,207.5L563.0,208.2L564.0,208.8L565.0,209.5L566.0,210.2L567.0,210.9L568.0,211.6L569.0,212.2L570.0,212.8L571.0,213.4L572.0,214.0L573.0,214.5L574.0,215.1L575.0,215.5L576.0,216.0L577.0,216.4L578.0,216.8L579.0,217.1L580.0,217.4L581.0,217.7L582.0,218.0L583.0,218.2L584.0,218.4L585.0,218.6L586.0,218.8L587.0,218.9L588.0,219.1L589.0,219.2L590.0,219.3L591.0,219.4L592.0,219.4L593.0,219.5L594.0,219.5L595.0,219.6L596.0,219.6L597.0,219.7L598.0,219.7L599.0,219.7L600.0,219.7L601.0,219.7L601.0,219.8L493.0,219.8Z" fill="#fcf3be"/>
<path d="M544.0,219.7L545.0,219.7L546.0,219.7L547.0,219.7L548.0,219.7L549.0,219.7L550.0,219.6L551.0,219.6L552.0,219.6L553.0,219.5L554.0,219.5L555.0,219.4L556.0,219.3L557.0,219.3L558.0,219.2L559.0,219.1L560.0,219.0L561.0,218.9L562.0,218.7L563.0,218.6L564.0,218.4L565.0,218.3L566.0,218.1L567.0,217.8L568.0,217.6L569.0,217.3L570.0,217.1L571.0,216.8L572.0,216.4L573.0,216.1L574.0,215.7L575.0,215.3L576.0,214.9L577.0,214.4L578.0,214.0L579.0,213.5L580.0,213.0L581.0,212.4L582.0,211.9L583.0,211.3L584.0,210.8L585.0,210.2L586.0,209.6L587.0,209.0L588.0,208.4L589.0,207.8L590.0,207.3L591.0,206.7L592.0,206.2L593.0,205.7L594.0,205.2L595.0,204.7L596.0,204.3L597.0,203.9L598.0,203.5L599.0,203.2L600.0,203.0L601.0,202.7L602.0,202.6L603.0,202.5L604.0,202.4L605.0,202.4L606.0,202.4L607.0,202.5L608.0,202.7L609.0,202.9L610.0,203.1L611.0,203.4L612.0,203.7L613.0,204.1L614.0,204.5L615.0,204.9L616.0,205.4L617.0,205.9L618.0,206.4L619.0,206.9L620.0,207.5L621.0,208.1L622.0,208.6L623.0,209.2L624.0,209.8L625.0,210.3L626.0,210.9L627.0,211.4L628.0,212.0L629.0,212.5L630.0,213.0L631.0,213.5L632.0,214.0L633.0,214.4L634.0,214.9L635.0,215.3L636.0,215.7L637.0,216.0L638.0,216.4L639.0,216.7L640.0,217.0L641.0,217.3L642.0,217.5L643.0,217.8L644.0,218.0L645.0,218.2L646.0,218.4L647.0,218.5L648.0,218.7L649.0,218.8L650.0,218.9L651.0,219.1L652.0,219.1L653.0,219.2L654.0,219.3L655.0,219.4L656.0,219.4L657.0,219.5L658.0,219.5L659.0,219.6L660.0,219.6L661.0,219.6L662.0,219.7L663.0,219.7L664.0,219.7L665.0,219.7L666.0,219.7L667.0,219.7L667.0,219.8L544.0,219.8Z" fill="#e4d3ea"/>
<path d="M515.0,219.7L516.0,219.7L517.0,219.7L518.0,219.7L519.0,219.7L520.0,219.6L521.0,219.6L522.0,219.5L523.0,219.5L524.0,219.4L525.0,219.3L526.0,219.2L527.0,219.1L528.0,219.0L529.0,218.8L530.0,218.6L531.0,218.3L532.0,218.1L533.0,217.7L534.0,217.4L535.0,216.9L536.0,216.5L537.0,215.9L538.0,215.3L539.0,214.6L540.0,213.8L541.0,212.9L542.0,211.9L543.0,210.9L544.0,209.7L545.0,208.4L546.0,207.0L547.0,205.5L548.0,203.9L549.0,202.2L550.0,202.2L551.0,202.4L552.0,202.5L553.0,202.8L554.0,203.1L555.0,203.5L556.0,204.0L557.0,204.4L558.0,205.0L559.0,205.6L560.0,206.2L561.0,206.8L562.0,207.5L563.0,208.2L564.0,208.8L565.0,209.5L566.0,210.2L567.0,210.9L568.0,211.6L569.0,212.2L570.0,212.8L571.0,213.4L572.0,214.0L573.0,214.5L574.0,215.1L575.0,215.5L576.0,216.0L577.0,216.4L578.0,216.8L579.0,217.1L580.0,217.4L581.0,217.7L582.0,218.0L583.0,218.2L584.0,218.4L585.0,218.6L586.0,218.8L587.0,218.9L588.0,219.1L589.0,219.2L590.0,219.3L591.0,219.4L592.0,219.4L593.0,219.5L594.0,219.5L595.0,219.6L596.0,219.6L597.0,219.7L598.0,219.7L599.0,219.7L600.0,219.7L601.0,219.7L601.0,219.8L515.0,219.8Z" fill="#e2ea86"/>
<path d="M544.0,219.7L545.0,219.7L546.0,219.7L547.0,219.7L548.0,219.7L549.0,219.7L550.0,219.6L551.0,219.6L552.0,219.6L553.0,219.5L554.0,219.5L555.0,219.4L556.0,219.3L557.0,219.3L558.0,219.2L559.0,219.1L560.0,219.0L561.0,218.9L562.0,218.7L563.0,218.6L564.0,218.4L565.0,218.3L566.0,218.1L567.0,217.8L568.0,217.6L569.0,217.3L570.0,217.1L571.0,216.8L572.0,216.4L573.0,216.1L574.0,215.7L575.0,215.3L576.0,214.9L577.0,214.4L578.0,214.0L579.0,213.5L580.0,213.0L581.0,212.4L582.0,211.9L583.0,211.3L584.0,210.8L585.0,210.2L586.0,209.6L587.0,209.0L588.0,208.4L589.0,207.8L590.0,207.3L591.0,206.7L592.0,206.2L593.0,205.7L594.0,205.2L595.0,204.7L596.0,204.3L597.0,203.9L598.0,204.8L599.0,206.4L600.0,207.8L601.0,209.2L602.0,210.4L603.0,211.5L604.0,212.5L605.0,213.4L606.0,214.3L607.0,215.0L608.0,215.7L609.0,216.3L610.0,216.8L611.0,217.2L612.0,217.6L613.0,218.0L614.0,218.2L615.0,218.5L616.0,218.7L617.0,218.9L618.0,219.1L619.0,219.2L620.0,219.3L621.0,219.4L622.0,219.5L623.0,219.5L624.0,219.6L625.0,219.6L626.0,219.7L627.0,219.7L628.0,219.7L629.0,219.7L630.0,219.7L630.0,219.8L544.0,219.8Z" fill="#bab4bf"/>
<path d="M544.0,219.7L545.0,219.7L546.0,219.7L547.0,219.7L548.0,219.7L549.0,219.7L550.0,219.6L551.0,219.6L552.0,219.6L553.0,219.5L554.0,219.5L555.0,219.4L556.0,219.3L557.0,219.3L558.0,219.2L559.0,219.1L560.0,219.0L561.0,218.9L562.0,218.7L563.0,218.6L564.0,218.4L565.0,218.3L566.0,218.1L567.0,217.8L568.0,217.6L569.0,217.3L570.0,217.1L571.0,216.8L572.0,216.4L573.0,216.1L574.0,215.7L575.0,215.5L576.0,216.0L577.0,216.4L578.0,216.8L579.0,217.1L580.0,217.4L581.0,217.7L582.0,218.0L583.0,218.2L584.0,218.4L585.0,218.6L586.0,218.8L587.0,218.9L588.0,219.1L589.0,219.2L590.0,219.3L591.0,219.4L592.0,219.4L593.0,219.5L594.0,219.5L595.0,219.6L596.0,219.6L597.0,219.7L598.0,219.7L599.0,219.7L600.0,219.7L601.0,219.7L601.0,219.8L544.0,219.8Z" fill="#c0a898"/>
<path d="M544.0,219.7L545.0,219.7L546.0,219.7L547.0,219.7L548.0,219.7L549.0,219.7L550.0,219.6L551.0,219.6L552.0,219.6L553.0,219.5L554.0,219.5L555.0,219.4L556.0,219.3L557.0,219.3L558.0,219.2L559.0,219.1L560.0,219.0L561.0,218.9L562.0,218.7L563.0,218.6L564.0,218.4L565.0,218.3L566.0,218.1L567.0,217.8L568.0,217.6L569.0,217.3L570.0,217.1L571.0,216.8L572.0,216.4L573.0,216.1L574.0,215.7L575.0,215.5L576.0,216.0L577.0,216.4L578.0,216.8L579.0,217.1L580.0,217.4L581.0,217.7L582.0,218.0L583.0,218.2L584.0,218.4L585.0,218.6L586.0,218.8L587.0,218.9L588.0,219.1L589.0,219.2L590.0,219.3L591.0,219.4L592.0,219.4L593.0,219.5L594.0,219.5L595.0,219.6L596.0,219.6L597.0,219.7L598.0,219.7L599.0,219.7L600.0,219.7L601.0,219.7L601.0,219.8L544.0,219.8Z" fill="#bea694"/>
<path d="M485.0,219.8L486.0,219.8L487.0,219.8L488.0,219.8L489.0,219.8L490.0,219.8L491.0,219.8L492.0,219.8L493.0,219.7L494.0,219.7L495.0,219.7L496.0,219.7L497.0,219.7L498.0,219.6L499.0,219.6L500.0,219.6L501.0,219.5L502.0,219.5L503.0,219.4L504.0,219.4L505.0,219.3L506.0,219.2L507.0,219.1L508.0,219.0L509.0,218.9L510.0,218.7L511.0,218.5L512.0,218.4L513.0,218.1L514.0,217.9L515.0,217.7L516.0,217.4L517.0,217.1L518.0,216.8L519.0,216.4L520.0,216.0L521.0,215.6L522.0,215.1L523.0,214.7L524.0,214.2L525.0,213.6L526.0,213.1L527.0,212.5L528.0,211.9L529.0,211.3L530.0,210.7L531.0,210.0L532.0,209.4L533.0,208.7L534.0,208.1L535.0,207.5L536.0,206.8L537.0,206.2L538.0,205.1L539.0,203.7L540.0,202.3L541.0,200.8L542.0,199.1L543.0,197.4L544.0,195.6L545.0,193.7L546.0,191.8L547.0,189.8L548.0,187.7L549.0,185.5L550.0,183.4L551.0,181.2L552.0,179.0L553.0,176.7L554.0,174.5L555.0,172.4L556.0,170.2L557.0,168.2L558.0,166.1L559.0,164.2L560.0,162.3L561.0,160.6L562.0,158.9L563.0,157.4L564.0,156.1L565.0,154.8L566.0,153.8L567.0,152.9L568.0,152.2L569.0,151.6L570.0,151.3L571.0,151.1L572.0,151.2L573.0,151.4L574.0,151.8L575.0,152.4L576.0,153.2L577.0,154.2L578.0,155.3L579.0,156.5L580.0,157.9L581.0,159.3L582.0,160.8L583.0,162.4L584.0,163.9L585.0,165.4L586.0,166.9L587.0,168.4L588.0,169.8L589.0,171.2L590.0,172.6L591.0,174.1L592.0,175.7L593.0,177.3L594.0,179.1L595.0,181.0L596.0,182.8L597.0,184.7L598.0,186.5L599.0,188.2L600.0,189.8L601.0,191.3L602.0,192.6L603.0,193.8L604.0,194.9L605.0,195.9L606.0,196.8L607.0,197.7L608.0,198.5L609.0,199.3L610.0,200.1L611.0,200.8L612.0,201.5L613.0,202.3L614.0,203.0L615.0,203.6L616.0,204.3L617.0,205.0L618.0,205.7L619.0,206.3L620.0,207.0L621.0,207.6L622.0,208.3L623.0,208.9L624.0,209.5L625.0,210.2L626.0,210.7L627.0,211.3L628.0,211.9L629.0,212.4L630.0,213.0L631.0,213.5L632.0,214.0L633.0,214.4L634.0,214.9L635.0,215.3L636.0,215.7L637.0,216.0L638.0,216.4L639.0,216.7L640.0,217.0L641.0,217.3L642.0,217.5L643.0,217.8L644.0,218.0L645.0,218.2L646.0,218.4L647.0,218.5L648.0,218.7L649.0,218.8L650.0,218.9L651.0,219.1L652.0,219.1L653.0,219.2L654.0,219.3L655.0,219.4L656.0,219.4L657.0,219.5L658.0,219.5L659.0,219.6L660.0,219.6L661.0,219.6L662.0,219.7L663.0,219.7L664.0,219.7L665.0,219.7L666.0,219.7L667.0,219.7L668.0,219.8L669.0,219.8L670.0,219.8L671.0,219.8L672.0,219.8L673.0,219.8L674.0,219.8L675.0,219.8L676.0,219.8L677.0,219.8L678.0,219.8L679.0,219.8L680.0,219.8L681.0,219.8L682.0,219.8L683.0,219.8" fill="none" stroke="#5a5f4c" stroke-width="1.2" stroke-linejoin="round"/>
<path d="M485.0,219.8L486.0,219.8L487.0,219.8L488.0,219.8L489.0,219.8L490.0,219.8L491.0,219.8L492.0,219.8L493.0,219.8L494.0,219.8L495.0,219.8L496.0,219.8L497.0,219.8L498.0,219.8L499.0,219.8L500.0,219.8L501.0,219.8L502.0,219.8L503.0,219.8L504.0,219.8L505.0,219.8L506.0,219.8L507.0,219.8" fill="none" stroke="#7fd93d" stroke-width="1.2" stroke-linejoin="round"/>
<path d="M506.0,219.8L507.0,219.8L508.0,219.8L509.0,219.8L510.0,219.8L511.0,219.8L512.0,219.8L513.0,219.8L514.0,219.8L515.0,219.7L516.0,219.7L517.0,219.7L518.0,219.7L519.0,219.7L520.0,219.6L521.0,219.6L522.0,219.5L523.0,219.5L524.0,219.4L525.0,219.3L526.0,219.2L527.0,219.1L528.0,219.0L529.0,218.8L530.0,218.6L531.0,218.3L532.0,218.1L533.0,217.7L534.0,217.4L535.0,216.9L536.0,216.5L537.0,215.9L538.0,215.3L539.0,214.6L540.0,213.8L541.0,212.9L542.0,211.9L543.0,210.9L544.0,209.7L545.0,208.4L546.0,207.0L547.0,205.5L548.0,203.9L549.0,202.2" fill="none" stroke="#b4d83c" stroke-width="1.2" stroke-linejoin="round"/>
<path d="M549.0,202.2L550.0,200.3L551.0,198.4L552.0,196.4L553.0,194.3L554.0,192.2L555.0,190.0L556.0,187.7L557.0,185.4L558.0,183.1L559.0,180.8L560.0,178.6L561.0,176.4L562.0,174.3L563.0,172.3L564.0,170.4L565.0,168.6L566.0,167.0L567.0,165.6L568.0,164.4L569.0,163.3L570.0,162.6L571.0,162.0L572.0,161.7L573.0,161.6L574.0,161.8L575.0,162.2L576.0,162.9L577.0,163.8L578.0,164.9L579.0,166.2L580.0,167.7L581.0,169.4L582.0,171.2L583.0,173.2L584.0,175.3L585.0,177.4L586.0,179.7L587.0,182.0L588.0,184.3L589.0,186.6L590.0,188.9L591.0,191.1L592.0,193.3L593.0,195.5L594.0,197.5L595.0,199.5L596.0,201.4L597.0,203.1L598.0,204.8" fill="none" stroke="#7fd93d" stroke-width="1.2" stroke-linejoin="round"/>
<path d="M597.0,203.1L598.0,204.8L599.0,206.4L600.0,207.8L601.0,209.2L602.0,210.4L603.0,211.5L604.0,212.5L605.0,213.4L606.0,214.3L607.0,215.0L608.0,215.7L609.0,216.3L610.0,216.8L611.0,217.2L612.0,217.6L613.0,218.0L614.0,218.2L615.0,218.5L616.0,218.7L617.0,218.9L618.0,219.1L619.0,219.2L620.0,219.3L621.0,219.4L622.0,219.5L623.0,219.5L624.0,219.6L625.0,219.6L626.0,219.7L627.0,219.7L628.0,219.7L629.0,219.7L630.0,219.7L631.0,219.8L632.0,219.8L633.0,219.8L634.0,219.8L635.0,219.8L636.0,219.8L637.0,219.8L638.0,219.8L639.0,219.8L640.0,219.8L641.0,219.8L642.0,219.8L643.0,219.8L644.0,219.8L645.0,219.8L646.0,219.8L647.0,219.8L648.0,219.8L649.0,219.8L650.0,219.8L651.0,219.8L652.0,219.8L653.0,219.8" fill="none" stroke="#8c9c78" stroke-width="1.2" stroke-linejoin="round"/>
<path d="M653.0,219.8L654.0,219.8L655.0,219.8L656.0,219.8L657.0,219.8L658.0,219.8L659.0,219.8L660.0,219.8L661.0,219.8L662.0,219.8L663.0,219.8L664.0,219.8L665.0,219.8L666.0,219.8L667.0,219.8L668.0,219.8L669.0,219.8L670.0,219.8L671.0,219.8L672.0,219.8L673.0,219.8L674.0,219.8L675.0,219.8L676.0,219.8L677.0,219.8L678.0,219.8L679.0,219.8L680.0,219.8L681.0,219.8L682.0,219.8L683.0,219.8" fill="none" stroke="#7fd93d" stroke-width="1.2" stroke-linejoin="round"/>
<path d="M485.0,219.8L486.0,219.8L487.0,219.8L488.0,219.8L489.0,219.8L490.0,219.8L491.0,219.8L492.0,219.8L493.0,219.7L494.0,219.7L495.0,219.7L496.0,219.7L497.0,219.7L498.0,219.6L499.0,219.6L500.0,219.6L501.0,219.5L502.0,219.5L503.0,219.4L504.0,219.4L505.0,219.3L506.0,219.2L507.0,219.1L508.0,219.0L509.0,218.9L510.0,218.7L511.0,218.5L512.0,218.4L513.0,218.1L514.0,217.9L515.0,217.7L516.0,217.4L517.0,217.1L518.0,216.8L519.0,216.4L520.0,216.0L521.0,215.6L522.0,215.1L523.0,214.7L524.0,214.2L525.0,213.6L526.0,213.1L527.0,212.5L528.0,211.9L529.0,211.3L530.0,210.7L531.0,210.0L532.0,209.4L533.0,208.7L534.0,208.1L535.0,207.5L536.0,206.8L537.0,206.2L538.0,205.7L539.0,205.1L540.0,204.6L541.0,204.1L542.0,203.7L543.0,203.3L544.0,203.0L545.0,202.7L546.0,202.5L547.0,202.3L548.0,202.2L549.0,202.2L550.0,202.2L551.0,202.4L552.0,202.5L553.0,202.8L554.0,203.1L555.0,203.5L556.0,204.0L557.0,204.4L558.0,205.0L559.0,205.6L560.0,206.2L561.0,206.8L562.0,207.5L563.0,208.2L564.0,208.8L565.0,209.5L566.0,210.2L567.0,210.9L568.0,211.6L569.0,212.2L570.0,212.8L571.0,213.4L572.0,214.0L573.0,214.5L574.0,215.1L575.0,215.5L576.0,216.0" fill="none" stroke="#f2d200" stroke-width="1.25" stroke-linejoin="round"/>
<path d="M575.0,215.5L576.0,216.0L577.0,216.4L578.0,216.8L579.0,217.1L580.0,217.4L581.0,217.7L582.0,218.0L583.0,218.2L584.0,218.4L585.0,218.6L586.0,218.8L587.0,218.9L588.0,219.1L589.0,219.2L590.0,219.3L591.0,219.4L592.0,219.4L593.0,219.5L594.0,219.5L595.0,219.6L596.0,219.6L597.0,219.7L598.0,219.7L599.0,219.7L600.0,219.7L601.0,219.7L602.0,219.8L603.0,219.8L604.0,219.8L605.0,219.8L606.0,219.8L607.0,219.8L608.0,219.8L609.0,219.8L610.0,219.8L611.0,219.8L612.0,219.8L613.0,219.8L614.0,219.8L615.0,219.8L616.0,219.8L617.0,219.8L618.0,219.8L619.0,219.8L620.0,219.8L621.0,219.8L622.0,219.8L623.0,219.8L624.0,219.8L625.0,219.8L626.0,219.8L627.0,219.8L628.0,219.8L629.0,219.8L630.0,219.8L631.0,219.8L632.0,219.8L633.0,219.8L634.0,219.8L635.0,219.8L636.0,219.8L637.0,219.8L638.0,219.8L639.0,219.8L640.0,219.8L641.0,219.8L642.0,219.8L643.0,219.8L644.0,219.8L645.0,219.8L646.0,219.8L647.0,219.8L648.0,219.8L649.0,219.8L650.0,219.8L651.0,219.8L652.0,219.8L653.0,219.8" fill="none" stroke="#d9a040" stroke-width="1.25" stroke-linejoin="round"/>
<path d="M653.0,219.8L654.0,219.8L655.0,219.8L656.0,219.8L657.0,219.8L658.0,219.8L659.0,219.8L660.0,219.8L661.0,219.8L662.0,219.8L663.0,219.8L664.0,219.8L665.0,219.8L666.0,219.8L667.0,219.8L668.0,219.8L669.0,219.8L670.0,219.8L671.0,219.8L672.0,219.8L673.0,219.8L674.0,219.8L675.0,219.8L676.0,219.8L677.0,219.8L678.0,219.8L679.0,219.8L680.0,219.8L681.0,219.8L682.0,219.8L683.0,219.8" fill="none" stroke="#f2d200" stroke-width="1.25" stroke-linejoin="round"/>
<path d="M485.0,219.8L486.0,219.8L487.0,219.8L488.0,219.8L489.0,219.8L490.0,219.8L491.0,219.8L492.0,219.8L493.0,219.8L494.0,219.8L495.0,219.8L496.0,219.8L497.0,219.8L498.0,219.8L499.0,219.8L500.0,219.8L501.0,219.8L502.0,219.8L503.0,219.8L504.0,219.8L505.0,219.8L506.0,219.8L507.0,219.8L508.0,219.8L509.0,219.8L510.0,219.8L511.0,219.8L512.0,219.8L513.0,219.8L514.0,219.8L515.0,219.8L516.0,219.8L517.0,219.8L518.0,219.8L519.0,219.8L520.0,219.8L521.0,219.8L522.0,219.8L523.0,219.8L524.0,219.8L525.0,219.8L526.0,219.8L527.0,219.8L528.0,219.8L529.0,219.8L530.0,219.8L531.0,219.8L532.0,219.8L533.0,219.8L534.0,219.8L535.0,219.8L536.0,219.8L537.0,219.8L538.0,219.8L539.0,219.8L540.0,219.8L541.0,219.8L542.0,219.8L543.0,219.8L544.0,219.7L545.0,219.7L546.0,219.7L547.0,219.7L548.0,219.7L549.0,219.7L550.0,219.6L551.0,219.6L552.0,219.6L553.0,219.5L554.0,219.5L555.0,219.4L556.0,219.3L557.0,219.3L558.0,219.2L559.0,219.1L560.0,219.0L561.0,218.9L562.0,218.7L563.0,218.6L564.0,218.4L565.0,218.3L566.0,218.1L567.0,217.8L568.0,217.6L569.0,217.3L570.0,217.1L571.0,216.8L572.0,216.4L573.0,216.1L574.0,215.7L575.0,215.3L576.0,214.9L577.0,214.4L578.0,214.0L579.0,213.5L580.0,213.0L581.0,212.4L582.0,211.9L583.0,211.3L584.0,210.8L585.0,210.2L586.0,209.6L587.0,209.0L588.0,208.4L589.0,207.8L590.0,207.3L591.0,206.7L592.0,206.2L593.0,205.7L594.0,205.2L595.0,204.7L596.0,204.3L597.0,203.9L598.0,203.5L599.0,203.2L600.0,203.0L601.0,202.7L602.0,202.6L603.0,202.5L604.0,202.4L605.0,202.4L606.0,202.4L607.0,202.5L608.0,202.7L609.0,202.9L610.0,203.1L611.0,203.4L612.0,203.7L613.0,204.1L614.0,204.5L615.0,204.9L616.0,205.4L617.0,205.9L618.0,206.4L619.0,206.9L620.0,207.5L621.0,208.1L622.0,208.6L623.0,209.2L624.0,209.8L625.0,210.3L626.0,210.9L627.0,211.4L628.0,212.0L629.0,212.5L630.0,213.0L631.0,213.5L632.0,214.0L633.0,214.4L634.0,214.9L635.0,215.3L636.0,215.7L637.0,216.0L638.0,216.4L639.0,216.7L640.0,217.0L641.0,217.3L642.0,217.5L643.0,217.8L644.0,218.0L645.0,218.2L646.0,218.4L647.0,218.5L648.0,218.7L649.0,218.8L650.0,218.9L651.0,219.1L652.0,219.1L653.0,219.2L654.0,219.3L655.0,219.4L656.0,219.4L657.0,219.5L658.0,219.5L659.0,219.6L660.0,219.6L661.0,219.6L662.0,219.7L663.0,219.7L664.0,219.7L665.0,219.7L666.0,219.7L667.0,219.7L668.0,219.8L669.0,219.8L670.0,219.8L671.0,219.8L672.0,219.8L673.0,219.8L674.0,219.8L675.0,219.8L676.0,219.8L677.0,219.8L678.0,219.8L679.0,219.8L680.0,219.8L681.0,219.8L682.0,219.8L683.0,219.8" fill="none" stroke="#8e40ae" stroke-width="1.3" stroke-linejoin="round"/>
<line x1="485" y1="220.00" x2="683" y2="220.00" stroke="#8e40ae" stroke-width="1.0"/>
</g>
<rect x="485" y="137.5" width="198" height="89.5" fill="none" stroke="#000" stroke-width="1.6"/>
<line x1="682.75" y1="227.0" x2="682.75" y2="228.7" stroke="#000" stroke-width="1.2"/>
<line x1="654.50" y1="227.0" x2="654.50" y2="229.6" stroke="#000" stroke-width="1.2"/>
<text transform="translate(654.50,237.80) scale(0.88,1)" font-size="8.5" text-anchor="middle" fill="#333">530</text>
<line x1="626.25" y1="227.0" x2="626.25" y2="228.7" stroke="#000" stroke-width="1.2"/>
<line x1="598.00" y1="227.0" x2="598.00" y2="229.6" stroke="#000" stroke-width="1.2"/>
<text transform="translate(598.00,237.80) scale(0.88,1)" font-size="8.5" text-anchor="middle" fill="#333">532</text>
<line x1="569.75" y1="227.0" x2="569.75" y2="228.7" stroke="#000" stroke-width="1.2"/>
<line x1="541.50" y1="227.0" x2="541.50" y2="229.6" stroke="#000" stroke-width="1.2"/>
<text transform="translate(541.50,237.80) scale(0.88,1)" font-size="8.5" text-anchor="middle" fill="#333">534</text>
<line x1="513.25" y1="227.0" x2="513.25" y2="228.7" stroke="#000" stroke-width="1.2"/>
<line x1="485.00" y1="227.0" x2="485.00" y2="229.6" stroke="#000" stroke-width="1.2"/>
<text transform="translate(485.00,237.80) scale(0.88,1)" font-size="8.5" text-anchor="middle" fill="#333">536</text>
<line x1="489.3" y1="143.60" x2="505.3" y2="143.60" stroke="#5a5f4c" stroke-width="1.1"/>
<text x="507.50" y="145.90" font-size="7.1" fill="#555">DLNP</text>
<rect x="489.60" y="148.10" width="14.9" height="7.5" fill="#fdf3be" stroke="#eee0a0" stroke-width="0.6"/>
<text x="507.50" y="154.50" font-size="7.1" fill="#555">-COO-</text>
<rect x="489.60" y="156.90" width="14.9" height="7.5" fill="#d9f4cf" stroke="#c0e4b4" stroke-width="0.6"/>
<text x="507.50" y="163.30" font-size="7.1" fill="#555">Ph-O, C-O</text>
<rect x="489.60" y="165.70" width="14.9" height="7.5" fill="#e4d2ea" stroke="#ccb4d6" stroke-width="0.6"/>
<text x="507.50" y="172.10" font-size="7.1" fill="#555">C=O, OH</text>
<text transform="translate(227.2,63.3) rotate(-90)" font-size="11.4" text-anchor="middle" fill="#444">Intensity (a.u.)</text>
<text transform="translate(227.2,179.8) rotate(-90)" font-size="11.4" text-anchor="middle" fill="#444">Intensity (a.u.)</text>
<text transform="translate(471.4,63.4) rotate(-90)" font-size="11.4" text-anchor="middle" fill="#444">Intensity (a.u.)</text>
<text transform="translate(471.4,179.8) rotate(-90)" font-size="11.4" text-anchor="middle" fill="#444">Intensity (a.u.)</text>
<text x="289.5" y="253.3" font-size="11.2" fill="#3c3c3c">Binding energy (eV)</text>
<text x="534.2" y="253.3" font-size="11.2" fill="#3c3c3c">Binding energy (eV)</text>
</svg>
</body></html>
